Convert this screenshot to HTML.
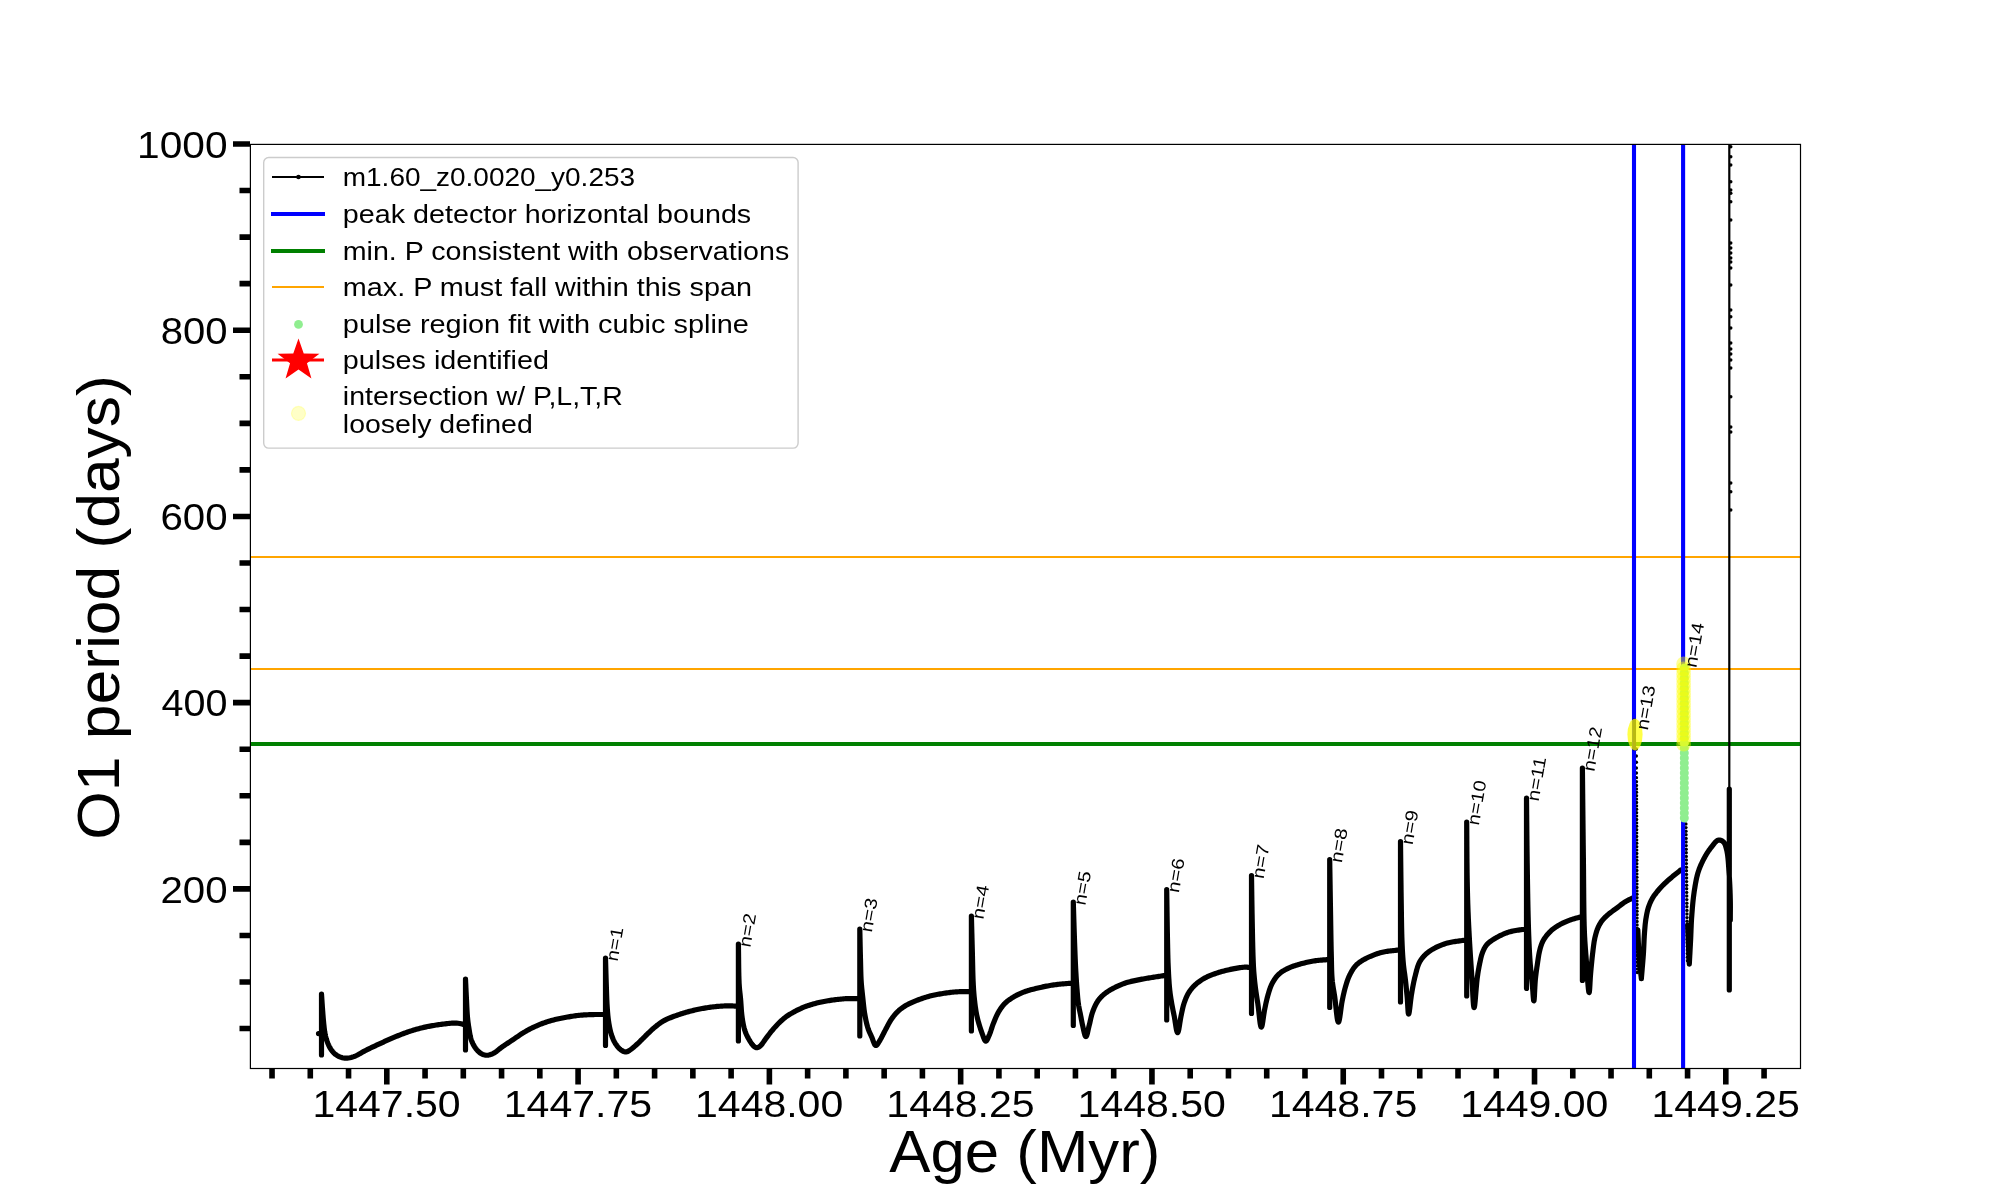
<!DOCTYPE html>
<html><head><meta charset="utf-8"><style>
html,body{margin:0;padding:0;background:#fff;overflow:hidden}
svg{display:block;will-change:transform}
text{font-family:"Liberation Sans",sans-serif;fill:#000}
</style></head><body>
<svg width="2000" height="1200" viewBox="0 0 2000 1200">
<rect width="2000" height="1200" fill="#fff"/>
<!-- hlines -->
<line x1="250" y1="557" x2="1800" y2="557" stroke="#ffa500" stroke-width="2"/>
<line x1="250" y1="669" x2="1800" y2="669" stroke="#ffa500" stroke-width="2"/>
<line x1="250" y1="744" x2="1800" y2="744" stroke="#008000" stroke-width="4.2"/>
<!-- curve -->
<path d="M318.5 1033.6 L321.5 1033.6 M321.50 1055.00 L321.50 994.00 M321.50 994.00 L321.55 994.67 L321.64 996.07 L321.74 997.50 L321.83 998.87 L321.92 1000.21 L322.00 1001.46 L322.08 1002.71 L322.17 1003.95 L322.25 1005.18 L322.34 1006.40 L322.42 1007.59 L322.51 1008.77 L322.60 1009.95 L322.69 1011.25 L322.79 1012.57 L322.89 1013.87 L322.99 1015.16 L323.09 1016.43 L323.19 1017.68 L323.30 1018.92 L323.41 1020.14 L323.52 1021.34 L323.63 1022.51 L323.75 1023.69 L323.89 1025.01 L324.03 1026.36 L324.18 1027.70 L324.34 1029.01 L324.50 1030.28 L324.67 1031.51 L324.86 1032.68 L325.06 1033.81 L325.28 1034.92 L325.59 1036.29 L325.93 1037.61 L326.28 1038.86 L326.66 1040.04 L327.06 1041.20 L327.51 1042.40 L328.03 1043.70 L328.61 1045.04 L329.24 1046.37 L329.92 1047.67 L330.64 1048.90 L331.39 1050.03 L332.13 1051.01 L332.91 1051.93 L333.73 1052.81 L334.62 1053.64 L335.56 1054.42 L336.56 1055.13 L337.56 1055.75 L338.66 1056.34 L339.84 1056.87 L341.08 1057.33 L342.33 1057.71 L343.56 1057.97 L344.77 1058.13 L345.98 1058.19 L347.21 1058.15 L348.47 1058.02 L349.77 1057.80 L351.11 1057.48 L352.48 1057.09 L353.81 1056.64 L354.86 1056.22 L355.90 1055.77 L356.96 1055.25 L358.04 1054.68 L359.16 1054.06 L360.30 1053.41 L361.46 1052.74 L362.65 1052.06 L363.87 1051.39 L365.07 1050.75 L366.13 1050.20 L367.19 1049.67 L368.28 1049.13 L369.41 1048.58 L370.57 1048.02 L371.75 1047.46 L372.93 1046.90 L374.12 1046.34 L375.31 1045.78 L376.50 1045.23 L377.68 1044.67 L378.86 1044.13 L380.02 1043.59 L381.16 1043.06 L382.31 1042.53 L383.46 1042.01 L384.61 1041.48 L385.76 1040.95 L386.91 1040.43 L388.07 1039.91 L389.22 1039.39 L390.38 1038.88 L391.53 1038.38 L392.69 1037.88 L393.86 1037.39 L395.02 1036.90 L396.16 1036.43 L397.31 1035.97 L398.45 1035.51 L399.60 1035.05 L400.75 1034.60 L401.91 1034.15 L403.06 1033.72 L404.21 1033.28 L405.37 1032.86 L406.52 1032.45 L407.66 1032.05 L408.80 1031.66 L409.95 1031.28 L411.20 1030.88 L412.47 1030.48 L413.73 1030.09 L414.98 1029.72 L416.23 1029.36 L417.48 1029.00 L418.74 1028.66 L419.99 1028.33 L421.24 1028.01 L422.50 1027.70 L423.76 1027.40 L425.02 1027.11 L426.26 1026.84 L427.50 1026.58 L428.74 1026.33 L429.99 1026.10 L431.24 1025.87 L432.49 1025.65 L433.74 1025.44 L434.99 1025.24 L436.24 1025.05 L437.48 1024.86 L438.72 1024.69 L439.95 1024.51 L441.21 1024.34 L442.54 1024.17 L443.92 1023.99 L445.32 1023.82 L446.74 1023.66 L448.14 1023.51 L449.51 1023.37 L450.80 1023.26 L451.96 1023.17 L452.98 1023.11 L453.90 1023.08 L454.77 1023.08 L456.51 1023.14 L458.04 1023.28 L459.59 1023.51 L460.96 1023.80 L462.10 1024.10 L464.03 1024.68 L464.75 1024.90 M465.50 1050.00 L465.50 979.00 M465.50 979.00 L465.53 979.67 L465.60 981.08 L465.66 982.51 L465.73 983.89 L465.79 985.21 L465.85 986.49 L465.91 987.75 L465.97 989.00 L466.02 990.26 L466.08 991.51 L466.14 992.75 L466.20 993.99 L466.26 995.21 L466.32 996.42 L466.38 997.60 L466.44 998.76 L466.50 999.93 L466.56 1001.24 L466.63 1002.58 L466.69 1003.92 L466.75 1005.24 L466.81 1006.55 L466.88 1007.85 L466.94 1009.14 L467.01 1010.41 L467.08 1011.66 L467.16 1012.88 L467.24 1014.07 L467.32 1015.20 L467.41 1016.31 L467.51 1017.41 L467.65 1018.80 L467.80 1020.18 L467.95 1021.48 L468.11 1022.72 L468.27 1023.92 L468.44 1025.09 L468.61 1026.27 L468.80 1027.47 L468.99 1028.70 L469.19 1029.97 L469.40 1031.28 L469.62 1032.60 L469.85 1033.92 L470.10 1035.22 L470.36 1036.47 L470.64 1037.65 L470.95 1038.77 L471.29 1039.86 L471.80 1041.27 L472.38 1042.65 L473.00 1043.96 L473.65 1045.19 L474.34 1046.36 L475.08 1047.49 L475.84 1048.55 L476.67 1049.60 L477.54 1050.61 L478.45 1051.53 L479.38 1052.35 L480.33 1053.06 L481.43 1053.75 L482.61 1054.34 L483.83 1054.80 L485.05 1055.10 L486.26 1055.24 L487.40 1055.23 L488.61 1055.07 L489.88 1054.77 L491.20 1054.33 L492.50 1053.78 L493.72 1053.17 L494.78 1052.55 L495.81 1051.85 L496.85 1051.07 L497.91 1050.22 L499.04 1049.30 L500.22 1048.36 L501.40 1047.45 L502.29 1046.80 L503.19 1046.17 L504.13 1045.52 L505.13 1044.85 L506.17 1044.16 L507.23 1043.46 L508.30 1042.76 L509.37 1042.06 L510.43 1041.36 L511.48 1040.67 L512.51 1039.98 L513.52 1039.30 L514.54 1038.61 L515.56 1037.92 L516.58 1037.22 L517.60 1036.52 L518.63 1035.82 L519.65 1035.14 L520.67 1034.46 L521.69 1033.81 L522.71 1033.17 L523.73 1032.53 L524.84 1031.87 L525.95 1031.22 L527.05 1030.59 L528.14 1029.98 L529.23 1029.39 L530.33 1028.80 L531.46 1028.22 L532.64 1027.64 L533.85 1027.06 L535.07 1026.50 L536.12 1026.03 L537.18 1025.57 L538.27 1025.11 L539.40 1024.65 L540.55 1024.19 L541.73 1023.74 L542.91 1023.29 L544.10 1022.86 L545.29 1022.44 L546.48 1022.04 L547.65 1021.65 L548.82 1021.28 L549.98 1020.93 L551.22 1020.57 L552.47 1020.23 L553.73 1019.90 L554.98 1019.59 L556.23 1019.30 L557.48 1019.02 L558.73 1018.74 L559.99 1018.48 L561.24 1018.23 L562.50 1017.98 L563.75 1017.74 L565.01 1017.50 L566.25 1017.28 L567.50 1017.05 L568.75 1016.83 L569.99 1016.62 L571.24 1016.42 L572.49 1016.22 L573.74 1016.04 L574.99 1015.86 L576.24 1015.70 L577.49 1015.54 L578.74 1015.40 L579.98 1015.27 L581.23 1015.16 L582.52 1015.05 L583.83 1014.96 L585.16 1014.87 L586.49 1014.80 L587.82 1014.74 L589.13 1014.68 L590.40 1014.64 L591.60 1014.60 L592.72 1014.56 L593.79 1014.54 L594.84 1014.51 L596.42 1014.49 L597.95 1014.48 L599.51 1014.48 L600.62 1014.48 L601.95 1014.49 L603.30 1014.50 M605.50 1045.50 L605.50 958.00 M605.50 958.00 L605.52 958.66 L605.56 960.06 L605.60 961.48 L605.64 962.85 L605.68 964.16 L605.71 965.43 L605.75 966.68 L605.78 967.94 L605.82 969.19 L605.85 970.44 L605.89 971.68 L605.92 972.93 L605.96 974.17 L606.00 975.40 L606.03 976.63 L606.07 977.86 L606.11 979.07 L606.14 980.28 L606.18 981.47 L606.22 982.63 L606.26 983.78 L606.30 984.94 L606.34 986.23 L606.38 987.54 L606.43 988.84 L606.47 990.12 L606.51 991.39 L606.55 992.65 L606.59 993.91 L606.63 995.15 L606.68 996.39 L606.72 997.62 L606.77 998.84 L606.82 1000.05 L606.88 1001.24 L606.94 1002.42 L607.00 1003.57 L607.06 1004.69 L607.13 1005.79 L607.20 1006.90 L607.29 1008.24 L607.39 1009.60 L607.49 1010.92 L607.58 1012.20 L607.69 1013.45 L607.79 1014.68 L607.91 1015.89 L608.03 1017.09 L608.16 1018.28 L608.31 1019.45 L608.46 1020.60 L608.63 1021.75 L608.81 1022.91 L609.03 1024.22 L609.26 1025.56 L609.52 1026.90 L609.79 1028.23 L610.07 1029.53 L610.36 1030.81 L610.67 1032.06 L610.99 1033.25 L611.32 1034.38 L611.66 1035.45 L612.03 1036.50 L612.53 1037.82 L613.07 1039.12 L613.64 1040.34 L614.21 1041.47 L614.80 1042.54 L615.41 1043.56 L616.06 1044.56 L616.79 1045.59 L617.56 1046.59 L618.34 1047.52 L619.12 1048.35 L619.90 1049.09 L620.73 1049.78 L622.01 1050.66 L623.46 1051.41 L624.81 1051.83 L626.00 1051.92 L627.02 1051.74 L628.15 1051.29 L629.44 1050.52 L630.81 1049.52 L632.10 1048.51 L633.02 1047.75 L633.94 1046.97 L634.91 1046.13 L635.92 1045.22 L636.97 1044.26 L638.02 1043.28 L639.06 1042.29 L640.06 1041.33 L640.93 1040.48 L641.80 1039.62 L642.67 1038.74 L643.56 1037.85 L644.44 1036.95 L645.33 1036.06 L646.20 1035.18 L647.08 1034.32 L647.96 1033.46 L648.95 1032.51 L649.96 1031.55 L650.98 1030.61 L651.99 1029.68 L653.00 1028.77 L654.03 1027.88 L655.07 1027.00 L656.10 1026.15 L657.04 1025.39 L657.95 1024.68 L658.85 1024.00 L659.76 1023.34 L660.72 1022.67 L661.77 1021.99 L662.90 1021.30 L664.09 1020.62 L665.02 1020.13 L665.97 1019.65 L666.98 1019.17 L668.06 1018.69 L669.19 1018.20 L670.37 1017.72 L671.57 1017.24 L672.79 1016.77 L674.02 1016.31 L675.25 1015.86 L676.47 1015.43 L677.66 1015.01 L678.84 1014.60 L679.99 1014.22 L681.21 1013.82 L682.44 1013.42 L683.67 1013.04 L684.90 1012.67 L686.13 1012.31 L687.36 1011.97 L688.59 1011.63 L689.83 1011.31 L691.06 1010.99 L692.30 1010.68 L693.54 1010.38 L694.78 1010.09 L696.02 1009.81 L697.24 1009.54 L698.46 1009.28 L699.69 1009.03 L700.91 1008.79 L702.14 1008.55 L703.37 1008.33 L704.60 1008.11 L705.84 1007.90 L707.07 1007.71 L708.30 1007.52 L709.53 1007.34 L710.75 1007.18 L711.98 1007.02 L713.21 1006.87 L714.48 1006.73 L715.78 1006.59 L717.09 1006.46 L718.41 1006.34 L719.73 1006.23 L721.04 1006.14 L722.33 1006.05 L723.57 1005.98 L724.73 1005.92 L725.81 1005.88 L726.84 1005.85 L727.85 1005.84 L729.40 1005.85 L730.88 1005.90 L732.39 1005.96 L733.43 1006.03 L734.71 1006.12 L736.00 1006.20 M738.40 1041.00 L738.40 944.00 M738.40 944.00 L738.41 944.65 L738.44 946.04 L738.46 947.47 L738.48 948.85 L738.50 950.18 L738.51 951.48 L738.53 952.78 L738.54 954.09 L738.56 955.40 L738.57 956.71 L738.59 958.03 L738.60 959.34 L738.62 960.66 L738.63 961.97 L738.64 963.28 L738.66 964.58 L738.68 965.88 L738.69 967.16 L738.71 968.44 L738.73 969.70 L738.75 970.95 L738.77 972.18 L738.80 973.40 L738.82 974.60 L738.85 975.77 L738.88 976.93 L738.91 978.06 L738.95 979.16 L738.99 980.22 L739.03 981.22 L739.06 982.14 L739.10 983.00 L739.15 983.83 L739.20 984.68 L739.31 986.32 L739.44 987.96 L739.57 989.41 L739.69 990.69 L739.82 991.86 L739.94 992.99 L740.07 994.10 L740.20 995.23 L740.33 996.41 L740.45 997.66 L740.58 998.99 L740.68 1000.19 L740.78 1001.40 L740.87 1002.63 L740.95 1003.88 L741.04 1005.17 L741.12 1006.46 L741.20 1007.76 L741.29 1009.05 L741.39 1010.35 L741.49 1011.62 L741.61 1012.87 L741.73 1014.08 L741.86 1015.25 L742.01 1016.42 L742.19 1017.78 L742.40 1019.16 L742.61 1020.54 L742.84 1021.89 L743.07 1023.21 L743.32 1024.51 L743.59 1025.78 L743.88 1027.01 L744.18 1028.19 L744.50 1029.32 L744.84 1030.44 L745.29 1031.72 L745.78 1032.98 L746.29 1034.20 L746.82 1035.37 L747.35 1036.47 L747.90 1037.52 L748.44 1038.54 L749.01 1039.53 L749.69 1040.69 L750.42 1041.85 L751.14 1042.92 L751.82 1043.88 L752.50 1044.74 L753.18 1045.53 L754.31 1046.63 L755.44 1047.39 L756.39 1047.69 L757.44 1047.64 L758.76 1047.12 L760.11 1046.17 L760.93 1045.40 L761.72 1044.48 L762.53 1043.38 L763.41 1042.12 L764.32 1040.78 L765.21 1039.50 L765.89 1038.56 L766.59 1037.61 L767.33 1036.62 L768.12 1035.58 L768.93 1034.52 L769.74 1033.47 L770.53 1032.46 L771.31 1031.49 L772.08 1030.55 L772.99 1029.47 L773.89 1028.41 L774.79 1027.39 L775.68 1026.40 L776.57 1025.43 L777.48 1024.47 L778.41 1023.52 L779.36 1022.57 L780.32 1021.64 L781.29 1020.73 L782.28 1019.83 L783.30 1018.94 L784.36 1018.07 L785.45 1017.23 L786.49 1016.47 L787.55 1015.74 L788.65 1015.02 L789.78 1014.31 L790.95 1013.61 L792.15 1012.92 L793.36 1012.24 L794.56 1011.59 L795.66 1011.00 L796.76 1010.44 L797.86 1009.88 L798.99 1009.33 L800.14 1008.79 L801.32 1008.25 L802.55 1007.72 L803.82 1007.20 L805.09 1006.70 L806.16 1006.30 L807.23 1005.92 L808.33 1005.54 L809.47 1005.17 L810.64 1004.80 L811.83 1004.43 L813.03 1004.08 L814.24 1003.74 L815.44 1003.42 L816.62 1003.11 L817.79 1002.81 L818.96 1002.53 L820.23 1002.24 L821.51 1001.96 L822.80 1001.69 L824.08 1001.44 L825.35 1001.21 L826.63 1000.99 L827.90 1000.77 L829.18 1000.57 L830.45 1000.38 L831.72 1000.19 L833.00 1000.01 L834.27 999.84 L835.55 999.67 L836.85 999.51 L838.16 999.36 L839.46 999.22 L840.76 999.09 L842.05 998.97 L843.32 998.86 L844.57 998.77 L845.79 998.69 L846.99 998.63 L848.30 998.58 L849.59 998.55 L850.86 998.53 L852.11 998.53 L853.39 998.54 L854.51 998.56 L855.73 998.57 L856.96 998.59 L858.20 998.60 M859.80 1036.00 L859.80 929.00 M859.80 929.00 L859.82 929.90 L859.85 931.47 L859.88 932.75 L859.91 934.02 L859.94 935.29 L859.96 936.56 L859.99 937.84 L860.02 939.12 L860.05 940.40 L860.07 941.67 L860.10 942.95 L860.13 944.22 L860.15 945.49 L860.18 946.75 L860.21 948.01 L860.24 949.26 L860.26 950.50 L860.29 951.74 L860.32 952.96 L860.35 954.17 L860.38 955.37 L860.41 956.55 L860.44 957.72 L860.47 958.85 L860.50 959.92 L860.54 961.36 L860.57 962.73 L860.60 964.08 L860.63 965.40 L860.66 966.71 L860.69 968.01 L860.72 969.29 L860.75 970.56 L860.79 971.82 L860.82 973.07 L860.86 974.30 L860.90 975.52 L860.95 976.74 L861.00 977.94 L861.06 979.14 L861.13 980.31 L861.20 981.45 L861.29 982.82 L861.39 984.14 L861.50 985.42 L861.62 986.68 L861.73 987.92 L861.86 989.16 L861.99 990.39 L862.12 991.61 L862.25 992.83 L862.39 994.05 L862.52 995.27 L862.66 996.50 L862.80 997.75 L862.93 999.00 L863.06 1000.26 L863.19 1001.52 L863.32 1002.79 L863.46 1004.06 L863.59 1005.32 L863.73 1006.58 L863.88 1007.84 L864.03 1009.09 L864.19 1010.33 L864.37 1011.57 L864.55 1012.79 L864.75 1013.99 L864.97 1015.23 L865.20 1016.48 L865.43 1017.73 L865.67 1018.98 L865.93 1020.22 L866.19 1021.44 L866.47 1022.65 L866.75 1023.84 L867.05 1025.01 L867.36 1026.15 L867.67 1027.23 L867.99 1028.23 L868.44 1029.55 L868.91 1030.77 L869.39 1031.92 L869.88 1033.03 L870.38 1034.13 L870.89 1035.21 L871.39 1036.28 L871.85 1037.32 L872.41 1038.70 L872.97 1040.28 L873.54 1041.89 L874.12 1043.42 L874.78 1044.69 L875.39 1045.35 L875.81 1045.51 L876.33 1045.41 L877.15 1044.74 L878.06 1043.46 L878.93 1042.00 L879.78 1040.57 L880.27 1039.75 L880.82 1038.79 L881.39 1037.74 L881.96 1036.64 L882.53 1035.51 L883.11 1034.36 L883.70 1033.20 L884.30 1032.04 L884.92 1030.87 L885.45 1029.86 L886.01 1028.80 L886.58 1027.71 L887.16 1026.60 L887.74 1025.48 L888.33 1024.37 L888.93 1023.28 L889.54 1022.20 L890.16 1021.15 L890.77 1020.16 L891.37 1019.26 L892.17 1018.11 L892.95 1017.04 L893.73 1016.03 L894.52 1015.04 L895.33 1014.09 L896.16 1013.17 L897.02 1012.28 L897.92 1011.40 L898.81 1010.58 L899.71 1009.80 L900.64 1009.05 L901.59 1008.33 L902.57 1007.63 L903.57 1006.94 L904.62 1006.27 L905.73 1005.59 L906.71 1005.03 L907.74 1004.47 L908.81 1003.91 L909.90 1003.38 L911.02 1002.85 L912.15 1002.34 L913.31 1001.84 L914.47 1001.35 L915.64 1000.87 L916.81 1000.40 L917.93 999.96 L919.08 999.53 L920.24 999.10 L921.42 998.68 L922.61 998.27 L923.80 997.88 L925.00 997.49 L926.21 997.12 L927.41 996.77 L928.61 996.43 L929.81 996.10 L930.98 995.80 L932.15 995.52 L933.33 995.25 L934.51 995.00 L935.69 994.76 L936.87 994.53 L938.06 994.31 L939.24 994.10 L940.43 993.89 L941.61 993.70 L942.76 993.51 L944.09 993.30 L945.39 993.10 L946.69 992.91 L947.99 992.73 L949.29 992.56 L950.59 992.40 L951.89 992.26 L953.20 992.12 L954.50 992.01 L955.80 991.90 L957.10 991.82 L958.40 991.76 L959.70 991.72 L961.00 991.69 L962.30 991.67 L963.60 991.66 L964.90 991.65 L966.22 991.64 L967.84 991.62 L968.80 991.60 M971.40 1031.00 L971.40 916.00 M971.40 916.00 L971.43 917.21 L971.46 918.43 L971.50 919.64 L971.53 920.85 L971.56 922.07 L971.59 923.28 L971.62 924.49 L971.65 925.70 L971.69 926.91 L971.72 928.12 L971.75 929.33 L971.78 930.55 L971.81 931.76 L971.84 932.97 L971.88 934.18 L971.91 935.39 L971.94 936.61 L971.97 937.82 L972.00 939.03 L972.04 940.25 L972.07 941.46 L972.10 942.68 L972.13 943.90 L972.17 945.12 L972.20 946.34 L972.23 947.56 L972.27 948.78 L972.30 950.00 L972.33 951.20 L972.36 952.42 L972.39 953.66 L972.42 954.90 L972.45 956.16 L972.48 957.42 L972.51 958.69 L972.54 959.97 L972.56 961.25 L972.59 962.53 L972.62 963.81 L972.65 965.09 L972.68 966.37 L972.70 967.64 L972.73 968.91 L972.76 970.16 L972.80 971.41 L972.83 972.65 L972.86 973.87 L972.90 975.08 L972.94 976.27 L972.97 977.44 L973.01 978.60 L973.06 979.73 L973.10 980.84 L973.15 981.93 L973.20 982.98 L973.25 983.96 L973.29 984.83 L973.39 986.48 L973.48 987.95 L973.57 989.33 L973.66 990.67 L973.76 991.98 L973.86 993.24 L973.96 994.49 L974.07 995.71 L974.19 996.91 L974.31 998.11 L974.43 999.30 L974.56 1000.49 L974.70 1001.67 L974.85 1002.97 L975.01 1004.25 L975.17 1005.50 L975.33 1006.74 L975.51 1007.97 L975.69 1009.19 L975.87 1010.39 L976.07 1011.57 L976.27 1012.73 L976.48 1013.86 L976.69 1014.93 L976.99 1016.32 L977.28 1017.62 L977.59 1018.88 L977.91 1020.11 L978.24 1021.33 L978.58 1022.54 L978.93 1023.76 L979.30 1024.98 L979.68 1026.26 L980.09 1027.56 L980.51 1028.86 L980.94 1030.16 L981.38 1031.44 L981.82 1032.68 L982.26 1033.86 L982.64 1034.85 L983.26 1036.56 L983.89 1038.37 L984.59 1040.05 L985.32 1041.01 L985.75 1041.18 L986.10 1041.08 L986.70 1040.51 L987.43 1039.29 L988.10 1037.83 L988.74 1036.32 L989.33 1034.91 L989.75 1033.89 L990.19 1032.74 L990.63 1031.51 L991.05 1030.23 L991.48 1028.93 L991.91 1027.61 L992.35 1026.29 L992.82 1024.97 L993.31 1023.68 L993.78 1022.50 L994.27 1021.28 L994.77 1020.04 L995.28 1018.79 L995.81 1017.55 L996.35 1016.32 L996.91 1015.11 L997.49 1013.93 L998.09 1012.79 L998.71 1011.70 L999.36 1010.63 L1000.02 1009.58 L1000.70 1008.56 L1001.40 1007.57 L1002.12 1006.61 L1002.86 1005.67 L1003.64 1004.76 L1004.45 1003.87 L1005.30 1003.02 L1006.22 1002.16 L1007.20 1001.33 L1008.21 1000.53 L1009.25 999.76 L1010.32 999.02 L1011.41 998.30 L1012.51 997.61 L1013.61 996.94 L1014.72 996.30 L1015.78 995.70 L1016.84 995.13 L1017.91 994.59 L1018.99 994.06 L1020.09 993.56 L1021.20 993.08 L1022.34 992.61 L1023.50 992.15 L1024.73 991.70 L1025.82 991.31 L1026.97 990.93 L1028.16 990.56 L1029.36 990.21 L1030.59 989.86 L1031.82 989.53 L1033.06 989.21 L1034.31 988.90 L1035.55 988.59 L1036.78 988.29 L1038.01 988.00 L1039.21 987.72 L1040.41 987.44 L1041.62 987.17 L1042.82 986.90 L1044.03 986.65 L1045.24 986.40 L1046.45 986.16 L1047.66 985.93 L1048.87 985.71 L1050.08 985.50 L1051.29 985.30 L1052.52 985.11 L1053.78 984.93 L1055.07 984.76 L1056.36 984.59 L1057.65 984.43 L1058.93 984.28 L1060.19 984.15 L1061.41 984.02 L1062.58 983.90 L1063.64 983.80 L1064.57 983.72 L1066.19 983.59 L1067.54 983.50 L1068.80 983.43 L1070.01 983.37 L1071.30 983.30 M1073.30 1025.50 L1073.30 902.00 M1073.30 902.00 L1073.33 902.88 L1073.38 904.43 L1073.42 905.70 L1073.45 906.94 L1073.49 908.18 L1073.53 909.43 L1073.57 910.68 L1073.61 911.93 L1073.64 913.18 L1073.68 914.43 L1073.72 915.69 L1073.76 916.94 L1073.79 918.19 L1073.83 919.44 L1073.87 920.69 L1073.91 921.94 L1073.95 923.18 L1073.98 924.42 L1074.02 925.66 L1074.06 926.89 L1074.10 928.12 L1074.14 929.34 L1074.18 930.55 L1074.22 931.76 L1074.26 932.96 L1074.30 934.16 L1074.34 935.35 L1074.38 936.53 L1074.42 937.69 L1074.46 938.84 L1074.50 939.95 L1074.55 941.28 L1074.59 942.59 L1074.64 943.87 L1074.69 945.15 L1074.73 946.42 L1074.78 947.68 L1074.83 948.94 L1074.87 950.20 L1074.92 951.44 L1074.97 952.68 L1075.01 953.91 L1075.06 955.14 L1075.11 956.35 L1075.16 957.56 L1075.21 958.77 L1075.26 959.96 L1075.31 961.15 L1075.36 962.32 L1075.42 963.49 L1075.47 964.65 L1075.53 965.81 L1075.58 966.95 L1075.64 968.06 L1075.70 969.12 L1075.77 970.53 L1075.85 971.88 L1075.92 973.20 L1076.00 974.52 L1076.08 975.82 L1076.16 977.11 L1076.24 978.39 L1076.32 979.66 L1076.40 980.91 L1076.48 982.15 L1076.57 983.38 L1076.65 984.59 L1076.74 985.79 L1076.83 986.97 L1076.92 988.13 L1077.01 989.25 L1077.09 990.31 L1077.21 991.80 L1077.33 993.20 L1077.44 994.55 L1077.55 995.88 L1077.66 997.18 L1077.78 998.46 L1077.91 999.72 L1078.04 1000.97 L1078.18 1002.19 L1078.34 1003.40 L1078.50 1004.58 L1078.70 1005.86 L1078.92 1007.08 L1079.14 1008.26 L1079.38 1009.43 L1079.62 1010.58 L1079.87 1011.73 L1080.12 1012.87 L1080.36 1014.03 L1080.60 1015.20 L1080.83 1016.38 L1081.05 1017.55 L1081.26 1018.73 L1081.48 1019.90 L1081.70 1021.07 L1081.93 1022.25 L1082.17 1023.43 L1082.43 1024.60 L1082.68 1025.73 L1082.99 1027.08 L1083.33 1028.67 L1083.69 1030.35 L1084.06 1032.02 L1084.45 1033.62 L1084.88 1035.09 L1085.38 1036.18 L1085.73 1036.58 L1085.90 1036.63 L1086.07 1036.58 L1086.40 1036.20 L1086.88 1035.15 L1087.29 1033.71 L1087.66 1032.14 L1088.03 1030.47 L1088.40 1028.78 L1088.77 1027.16 L1089.13 1025.69 L1089.39 1024.66 L1089.66 1023.53 L1089.94 1022.35 L1090.20 1021.16 L1090.47 1019.95 L1090.75 1018.73 L1091.03 1017.52 L1091.32 1016.31 L1091.63 1015.12 L1091.97 1013.95 L1092.32 1012.82 L1092.69 1011.75 L1093.16 1010.49 L1093.65 1009.25 L1094.15 1008.04 L1094.67 1006.84 L1095.22 1005.66 L1095.79 1004.51 L1096.38 1003.40 L1097.00 1002.32 L1097.64 1001.29 L1098.29 1000.33 L1099.09 999.27 L1099.90 998.29 L1100.73 997.38 L1101.59 996.50 L1102.48 995.65 L1103.41 994.83 L1104.39 994.01 L1105.43 993.18 L1106.35 992.50 L1107.32 991.82 L1108.35 991.14 L1109.41 990.48 L1110.49 989.84 L1111.59 989.21 L1112.70 988.60 L1113.81 988.01 L1114.91 987.45 L1115.98 986.91 L1117.16 986.34 L1118.32 985.80 L1119.47 985.29 L1120.63 984.80 L1121.80 984.33 L1122.98 983.88 L1124.19 983.44 L1125.43 983.01 L1126.76 982.59 L1127.81 982.28 L1128.91 981.97 L1130.06 981.67 L1131.22 981.38 L1132.41 981.11 L1133.60 980.85 L1134.80 980.59 L1136.01 980.35 L1137.22 980.10 L1138.42 979.87 L1139.62 979.63 L1140.80 979.40 L1141.98 979.17 L1143.18 978.95 L1144.40 978.73 L1145.62 978.52 L1146.84 978.31 L1148.06 978.11 L1149.26 977.91 L1150.46 977.72 L1151.64 977.53 L1152.79 977.35 L1153.90 977.18 L1154.93 977.01 L1156.32 976.79 L1157.62 976.59 L1158.85 976.40 L1160.07 976.22 L1161.27 976.04 L1162.46 975.86 L1163.67 975.68 L1164.90 975.50 M1166.70 1020.00 L1166.70 889.50 M1166.70 889.50 L1166.71 890.36 L1166.74 891.88 L1166.76 893.14 L1166.78 894.37 L1166.79 895.60 L1166.81 896.84 L1166.83 898.09 L1166.85 899.34 L1166.87 900.59 L1166.89 901.85 L1166.90 903.11 L1166.92 904.37 L1166.94 905.63 L1166.96 906.90 L1166.98 908.16 L1166.99 909.42 L1167.01 910.68 L1167.03 911.94 L1167.05 913.20 L1167.07 914.45 L1167.08 915.70 L1167.10 916.95 L1167.12 918.19 L1167.14 919.43 L1167.16 920.66 L1167.18 921.88 L1167.20 923.09 L1167.22 924.30 L1167.23 925.50 L1167.25 926.69 L1167.27 927.87 L1167.29 929.04 L1167.31 930.19 L1167.33 931.34 L1167.35 932.47 L1167.37 933.59 L1167.39 934.70 L1167.41 935.79 L1167.44 936.87 L1167.46 937.93 L1167.48 938.93 L1167.50 939.86 L1167.53 941.41 L1167.56 942.83 L1167.59 944.21 L1167.62 945.55 L1167.64 946.88 L1167.67 948.18 L1167.70 949.47 L1167.72 950.74 L1167.75 951.99 L1167.78 953.22 L1167.81 954.45 L1167.84 955.66 L1167.87 956.86 L1167.90 958.06 L1167.94 959.24 L1167.97 960.43 L1168.01 961.61 L1168.05 962.78 L1168.10 963.96 L1168.15 965.13 L1168.20 966.30 L1168.25 967.45 L1168.31 968.80 L1168.38 970.13 L1168.44 971.44 L1168.51 972.74 L1168.57 974.05 L1168.64 975.34 L1168.71 976.63 L1168.79 977.91 L1168.87 979.19 L1168.95 980.45 L1169.03 981.70 L1169.12 982.93 L1169.21 984.16 L1169.31 985.36 L1169.41 986.55 L1169.52 987.73 L1169.63 988.85 L1169.74 989.92 L1169.91 991.36 L1170.07 992.72 L1170.24 994.03 L1170.42 995.32 L1170.61 996.59 L1170.80 997.84 L1170.99 999.07 L1171.19 1000.29 L1171.39 1001.49 L1171.60 1002.67 L1171.80 1003.83 L1171.99 1004.95 L1172.24 1006.32 L1172.48 1007.59 L1172.72 1008.80 L1172.96 1009.99 L1173.20 1011.18 L1173.45 1012.38 L1173.71 1013.61 L1173.97 1014.90 L1174.25 1016.29 L1174.45 1017.38 L1174.68 1018.71 L1174.92 1020.19 L1175.15 1021.75 L1175.40 1023.36 L1175.64 1024.97 L1175.89 1026.54 L1176.14 1028.04 L1176.40 1029.43 L1176.68 1030.72 L1177.02 1031.81 L1177.32 1032.41 L1177.51 1032.59 L1177.60 1032.61 L1177.70 1032.59 L1177.88 1032.42 L1178.17 1031.83 L1178.51 1030.75 L1178.79 1029.48 L1179.04 1028.09 L1179.29 1026.60 L1179.53 1025.04 L1179.78 1023.43 L1180.03 1021.83 L1180.28 1020.26 L1180.52 1018.76 L1180.77 1017.41 L1180.99 1016.29 L1181.29 1014.90 L1181.57 1013.55 L1181.84 1012.24 L1182.11 1010.94 L1182.39 1009.66 L1182.67 1008.40 L1182.97 1007.15 L1183.29 1005.92 L1183.63 1004.71 L1184.00 1003.52 L1184.42 1002.26 L1184.85 1001.03 L1185.31 999.81 L1185.78 998.60 L1186.27 997.42 L1186.79 996.27 L1187.34 995.14 L1187.91 994.05 L1188.51 993.01 L1189.16 991.96 L1189.84 990.95 L1190.53 989.99 L1191.26 989.05 L1192.01 988.14 L1192.80 987.25 L1193.63 986.38 L1194.51 985.50 L1195.38 984.69 L1196.29 983.88 L1197.23 983.09 L1198.21 982.31 L1199.22 981.56 L1200.25 980.82 L1201.31 980.11 L1202.40 979.42 L1203.51 978.75 L1204.60 978.14 L1205.72 977.55 L1206.87 976.98 L1208.04 976.44 L1209.24 975.91 L1210.46 975.40 L1211.70 974.91 L1212.95 974.43 L1214.22 973.96 L1215.54 973.49 L1216.68 973.10 L1217.88 972.70 L1219.10 972.32 L1220.34 971.95 L1221.60 971.59 L1222.86 971.24 L1224.14 970.90 L1225.41 970.57 L1226.69 970.26 L1227.97 969.96 L1229.24 969.68 L1230.49 969.40 L1231.76 969.14 L1233.09 968.87 L1234.46 968.61 L1235.86 968.35 L1237.25 968.11 L1238.63 967.88 L1239.98 967.68 L1241.27 967.50 L1242.50 967.34 L1243.64 967.23 L1244.59 967.15 L1245.35 967.13 L1246.99 967.20 L1248.09 967.33 L1249.25 967.50 M1251.50 1013.50 L1251.50 875.50 M1251.50 875.50 L1251.51 876.36 L1251.54 877.88 L1251.56 879.12 L1251.57 880.34 L1251.59 881.55 L1251.61 882.77 L1251.63 884.00 L1251.65 885.22 L1251.67 886.44 L1251.68 887.67 L1251.70 888.90 L1251.72 890.12 L1251.74 891.35 L1251.76 892.58 L1251.77 893.80 L1251.79 895.03 L1251.81 896.25 L1251.83 897.47 L1251.85 898.69 L1251.86 899.91 L1251.88 901.13 L1251.90 902.34 L1251.92 903.55 L1251.94 904.76 L1251.96 905.97 L1251.98 907.16 L1252.00 908.36 L1252.01 909.55 L1252.03 910.74 L1252.05 911.92 L1252.07 913.09 L1252.09 914.26 L1252.12 915.42 L1252.14 916.58 L1252.16 917.73 L1252.18 918.85 L1252.20 919.95 L1252.22 921.27 L1252.25 922.57 L1252.27 923.86 L1252.30 925.15 L1252.32 926.44 L1252.35 927.73 L1252.37 929.02 L1252.40 930.31 L1252.42 931.60 L1252.45 932.88 L1252.47 934.16 L1252.50 935.43 L1252.52 936.69 L1252.55 937.95 L1252.58 939.19 L1252.60 940.42 L1252.63 941.65 L1252.66 942.86 L1252.69 944.05 L1252.72 945.23 L1252.74 946.40 L1252.77 947.55 L1252.80 948.68 L1252.84 949.79 L1252.87 950.88 L1252.90 951.95 L1252.93 952.99 L1252.96 953.96 L1252.99 954.83 L1253.05 956.48 L1253.10 957.93 L1253.15 959.30 L1253.20 960.61 L1253.25 961.89 L1253.31 963.13 L1253.36 964.36 L1253.42 965.56 L1253.48 966.77 L1253.55 967.97 L1253.63 969.19 L1253.71 970.42 L1253.80 971.69 L1253.90 972.98 L1254.01 974.26 L1254.12 975.54 L1254.23 976.81 L1254.35 978.09 L1254.48 979.37 L1254.61 980.64 L1254.75 981.92 L1254.89 983.19 L1255.04 984.47 L1255.19 985.75 L1255.34 987.03 L1255.51 988.33 L1255.66 989.50 L1255.82 990.67 L1255.98 991.84 L1256.15 993.00 L1256.32 994.16 L1256.50 995.32 L1256.68 996.49 L1256.86 997.66 L1257.05 998.85 L1257.24 1000.04 L1257.43 1001.25 L1257.62 1002.47 L1257.81 1003.72 L1258.00 1005.00 L1258.16 1006.19 L1258.34 1007.55 L1258.51 1009.04 L1258.69 1010.61 L1258.87 1012.24 L1259.05 1013.91 L1259.23 1015.58 L1259.41 1017.25 L1259.60 1018.87 L1259.78 1020.43 L1259.97 1021.90 L1260.16 1023.27 L1260.37 1024.52 L1260.61 1025.67 L1260.88 1026.55 L1261.09 1026.96 L1261.23 1027.09 L1261.29 1027.11 L1261.37 1027.09 L1261.53 1026.94 L1261.79 1026.42 L1262.11 1025.37 L1262.37 1024.12 L1262.60 1022.77 L1262.83 1021.30 L1263.06 1019.74 L1263.29 1018.12 L1263.53 1016.48 L1263.76 1014.85 L1264.00 1013.26 L1264.24 1011.76 L1264.48 1010.38 L1264.70 1009.20 L1264.96 1007.94 L1265.22 1006.70 L1265.48 1005.47 L1265.73 1004.26 L1265.99 1003.06 L1266.26 1001.88 L1266.52 1000.70 L1266.80 999.54 L1267.08 998.39 L1267.38 997.25 L1267.68 996.13 L1267.99 995.04 L1268.36 993.77 L1268.73 992.53 L1269.09 991.32 L1269.47 990.11 L1269.86 988.93 L1270.27 987.76 L1270.71 986.61 L1271.17 985.48 L1271.67 984.38 L1272.20 983.33 L1272.81 982.19 L1273.45 981.09 L1274.12 980.01 L1274.82 978.95 L1275.55 977.92 L1276.32 976.93 L1277.11 975.98 L1277.95 975.07 L1278.82 974.21 L1279.71 973.41 L1280.64 972.66 L1281.61 971.95 L1282.61 971.27 L1283.65 970.63 L1284.71 970.02 L1285.79 969.43 L1286.89 968.86 L1288.02 968.30 L1289.09 967.80 L1290.19 967.33 L1291.31 966.88 L1292.46 966.46 L1293.62 966.05 L1294.80 965.67 L1296.00 965.29 L1297.22 964.92 L1298.45 964.56 L1299.72 964.20 L1300.88 963.87 L1302.08 963.54 L1303.31 963.22 L1304.57 962.90 L1305.84 962.59 L1307.12 962.29 L1308.40 962.00 L1309.68 961.73 L1310.96 961.47 L1312.23 961.23 L1313.48 961.01 L1314.70 960.81 L1315.94 960.63 L1317.16 960.47 L1318.38 960.34 L1319.59 960.23 L1320.79 960.13 L1321.99 960.04 L1323.19 959.96 L1324.39 959.88 L1325.59 959.79 L1326.79 959.70 L1328.00 959.60 M1329.70 1007.50 L1329.70 859.50 M1329.70 859.50 L1329.71 860.35 L1329.74 861.87 L1329.76 863.11 L1329.78 864.32 L1329.79 865.53 L1329.81 866.74 L1329.83 867.95 L1329.85 869.16 L1329.87 870.37 L1329.89 871.59 L1329.91 872.80 L1329.93 874.01 L1329.95 875.23 L1329.96 876.44 L1329.98 877.66 L1330.00 878.87 L1330.02 880.08 L1330.04 881.30 L1330.06 882.51 L1330.08 883.72 L1330.10 884.93 L1330.12 886.14 L1330.13 887.35 L1330.15 888.56 L1330.17 889.77 L1330.19 890.98 L1330.21 892.18 L1330.23 893.38 L1330.25 894.58 L1330.27 895.78 L1330.29 896.98 L1330.31 898.18 L1330.33 899.37 L1330.34 900.56 L1330.36 901.75 L1330.38 902.94 L1330.40 904.12 L1330.42 905.31 L1330.44 906.48 L1330.46 907.66 L1330.48 908.82 L1330.50 909.97 L1330.52 911.24 L1330.54 912.51 L1330.56 913.78 L1330.58 915.04 L1330.60 916.31 L1330.62 917.59 L1330.64 918.86 L1330.66 920.14 L1330.68 921.42 L1330.70 922.70 L1330.72 923.98 L1330.74 925.25 L1330.76 926.53 L1330.78 927.80 L1330.80 929.07 L1330.82 930.34 L1330.84 931.60 L1330.86 932.86 L1330.88 934.11 L1330.90 935.36 L1330.92 936.60 L1330.94 937.83 L1330.96 939.05 L1330.98 940.27 L1331.00 941.48 L1331.03 942.67 L1331.05 943.86 L1331.07 945.03 L1331.10 946.20 L1331.12 947.35 L1331.14 948.49 L1331.17 949.61 L1331.19 950.72 L1331.22 951.82 L1331.25 952.90 L1331.27 953.92 L1331.30 954.87 L1331.34 956.41 L1331.37 957.83 L1331.40 959.20 L1331.43 960.56 L1331.45 961.89 L1331.48 963.21 L1331.50 964.50 L1331.53 965.78 L1331.56 967.04 L1331.59 968.29 L1331.62 969.51 L1331.66 970.73 L1331.70 971.93 L1331.75 973.11 L1331.81 974.29 L1331.87 975.45 L1331.94 976.60 L1332.02 977.74 L1332.10 978.86 L1332.20 979.94 L1332.33 981.30 L1332.48 982.55 L1332.63 983.76 L1332.79 984.93 L1332.96 986.08 L1333.14 987.21 L1333.33 988.34 L1333.52 989.47 L1333.71 990.60 L1333.91 991.75 L1334.10 992.93 L1334.30 994.13 L1334.50 995.39 L1334.70 996.73 L1334.85 997.83 L1335.02 999.10 L1335.18 1000.51 L1335.35 1001.99 L1335.52 1003.55 L1335.69 1005.15 L1335.87 1006.79 L1336.04 1008.43 L1336.22 1010.08 L1336.39 1011.69 L1336.57 1013.27 L1336.75 1014.78 L1336.94 1016.22 L1337.12 1017.57 L1337.31 1018.80 L1337.52 1019.94 L1337.76 1020.97 L1338.02 1021.68 L1338.21 1022.00 L1338.33 1022.09 L1338.39 1022.11 L1338.46 1022.10 L1338.60 1021.99 L1338.83 1021.59 L1339.12 1020.74 L1339.38 1019.61 L1339.61 1018.39 L1339.83 1017.05 L1340.04 1015.61 L1340.25 1014.09 L1340.47 1012.52 L1340.68 1010.91 L1340.90 1009.29 L1341.12 1007.68 L1341.33 1006.11 L1341.55 1004.61 L1341.78 1003.19 L1341.99 1001.91 L1342.20 1000.84 L1342.47 999.51 L1342.73 998.24 L1342.98 997.01 L1343.24 995.80 L1343.50 994.62 L1343.76 993.45 L1344.03 992.30 L1344.30 991.17 L1344.58 990.04 L1344.88 988.93 L1345.18 987.83 L1345.49 986.74 L1345.86 985.48 L1346.23 984.25 L1346.60 983.04 L1346.98 981.85 L1347.38 980.67 L1347.79 979.51 L1348.23 978.36 L1348.69 977.22 L1349.18 976.11 L1349.69 975.04 L1350.31 973.82 L1350.94 972.62 L1351.60 971.44 L1352.29 970.28 L1353.01 969.14 L1353.77 968.04 L1354.57 966.98 L1355.43 965.96 L1356.35 964.98 L1357.17 964.19 L1358.05 963.43 L1358.97 962.71 L1359.93 962.02 L1360.92 961.36 L1361.94 960.72 L1362.99 960.10 L1364.06 959.50 L1365.18 958.89 L1366.34 958.29 L1367.33 957.78 L1368.38 957.27 L1369.48 956.76 L1370.60 956.26 L1371.74 955.77 L1372.90 955.30 L1374.08 954.84 L1375.27 954.40 L1376.47 953.98 L1377.68 953.57 L1378.89 953.19 L1380.11 952.83 L1381.32 952.50 L1382.46 952.22 L1383.61 951.97 L1384.79 951.74 L1385.97 951.54 L1387.16 951.36 L1388.36 951.19 L1389.56 951.03 L1390.77 950.89 L1391.98 950.75 L1393.19 950.61 L1394.40 950.47 L1395.64 950.32 L1397.15 950.12 L1398.00 950.00 M1400.50 1002.00 L1400.50 841.50 M1400.50 841.50 L1400.51 842.37 L1400.53 843.91 L1400.54 845.17 L1400.56 846.41 L1400.57 847.64 L1400.59 848.88 L1400.60 850.12 L1400.61 851.37 L1400.63 852.61 L1400.64 853.86 L1400.65 855.11 L1400.67 856.36 L1400.68 857.62 L1400.70 858.87 L1400.71 860.12 L1400.72 861.38 L1400.74 862.63 L1400.75 863.89 L1400.76 865.14 L1400.78 866.39 L1400.79 867.64 L1400.81 868.89 L1400.82 870.14 L1400.83 871.39 L1400.85 872.63 L1400.86 873.87 L1400.87 875.11 L1400.89 876.35 L1400.90 877.58 L1400.92 878.81 L1400.93 880.04 L1400.95 881.26 L1400.96 882.47 L1400.98 883.69 L1400.99 884.89 L1401.01 886.10 L1401.02 887.29 L1401.04 888.48 L1401.05 889.67 L1401.07 890.84 L1401.08 892.02 L1401.10 893.18 L1401.12 894.34 L1401.13 895.49 L1401.15 896.63 L1401.17 897.76 L1401.18 898.87 L1401.20 899.93 L1401.22 901.30 L1401.24 902.64 L1401.26 903.95 L1401.28 905.26 L1401.30 906.57 L1401.31 907.88 L1401.33 909.18 L1401.35 910.48 L1401.37 911.77 L1401.39 913.06 L1401.40 914.34 L1401.42 915.62 L1401.44 916.89 L1401.46 918.15 L1401.48 919.41 L1401.50 920.65 L1401.52 921.89 L1401.54 923.12 L1401.56 924.34 L1401.58 925.56 L1401.60 926.76 L1401.63 927.95 L1401.65 929.13 L1401.68 930.30 L1401.70 931.46 L1401.73 932.60 L1401.76 933.73 L1401.79 934.85 L1401.82 935.96 L1401.85 937.05 L1401.89 938.12 L1401.92 939.18 L1401.96 940.19 L1402.00 941.12 L1402.06 942.63 L1402.11 944.01 L1402.17 945.33 L1402.23 946.63 L1402.28 947.90 L1402.34 949.15 L1402.41 950.37 L1402.47 951.58 L1402.54 952.77 L1402.61 953.95 L1402.68 955.11 L1402.76 956.26 L1402.84 957.41 L1402.92 958.55 L1403.01 959.68 L1403.10 960.82 L1403.20 961.94 L1403.30 963.04 L1403.43 964.41 L1403.57 965.71 L1403.72 966.99 L1403.87 968.25 L1404.03 969.50 L1404.20 970.74 L1404.37 971.98 L1404.54 973.20 L1404.71 974.43 L1404.87 975.66 L1405.04 976.88 L1405.20 978.11 L1405.35 979.35 L1405.50 980.60 L1405.64 981.85 L1405.78 983.10 L1405.91 984.36 L1406.04 985.61 L1406.17 986.87 L1406.30 988.13 L1406.43 989.38 L1406.55 990.64 L1406.67 991.89 L1406.79 993.14 L1406.91 994.39 L1407.02 995.63 L1407.14 996.86 L1407.24 998.05 L1407.35 999.41 L1407.46 1000.94 L1407.56 1002.57 L1407.65 1004.25 L1407.74 1005.94 L1407.83 1007.61 L1407.92 1009.20 L1408.02 1010.68 L1408.13 1012.05 L1408.31 1013.27 L1408.48 1013.91 L1408.58 1014.07 L1408.62 1014.08 L1408.66 1014.07 L1408.74 1013.96 L1408.90 1013.57 L1409.11 1012.68 L1409.32 1011.51 L1409.50 1010.25 L1409.67 1008.88 L1409.86 1007.41 L1410.04 1005.85 L1410.23 1004.25 L1410.42 1002.62 L1410.61 1000.98 L1410.81 999.37 L1411.01 997.80 L1411.21 996.32 L1411.41 994.95 L1411.60 993.76 L1411.83 992.45 L1412.05 991.15 L1412.28 989.85 L1412.51 988.57 L1412.74 987.29 L1412.98 986.02 L1413.22 984.76 L1413.47 983.51 L1413.72 982.27 L1413.98 981.04 L1414.25 979.82 L1414.52 978.62 L1414.81 977.43 L1415.10 976.27 L1415.41 975.01 L1415.73 973.76 L1416.04 972.51 L1416.36 971.27 L1416.69 970.04 L1417.03 968.83 L1417.38 967.64 L1417.76 966.48 L1418.16 965.35 L1418.58 964.27 L1419.02 963.25 L1419.48 962.32 L1420.15 961.11 L1420.83 960.01 L1421.54 958.98 L1422.28 958.00 L1423.05 957.07 L1423.87 956.16 L1424.71 955.28 L1425.59 954.42 L1426.57 953.54 L1427.57 952.70 L1428.61 951.89 L1429.69 951.12 L1430.81 950.37 L1431.97 949.65 L1433.17 948.94 L1434.46 948.22 L1435.47 947.69 L1436.56 947.15 L1437.69 946.62 L1438.85 946.09 L1440.04 945.59 L1441.25 945.10 L1442.48 944.63 L1443.72 944.19 L1444.98 943.77 L1446.25 943.37 L1447.55 943.00 L1448.66 942.71 L1449.82 942.44 L1451.00 942.20 L1452.20 941.98 L1453.42 941.78 L1454.64 941.60 L1455.87 941.43 L1457.11 941.26 L1458.34 941.10 L1459.58 940.94 L1460.84 940.76 L1462.38 940.54 L1463.25 940.40 M1466.70 996.00 L1466.70 822.00 M1466.70 822.00 L1466.71 822.86 L1466.72 824.39 L1466.73 825.65 L1466.74 826.88 L1466.75 828.12 L1466.76 829.36 L1466.77 830.61 L1466.77 831.86 L1466.78 833.11 L1466.79 834.37 L1466.80 835.63 L1466.81 836.89 L1466.81 838.15 L1466.82 839.42 L1466.83 840.68 L1466.84 841.95 L1466.84 843.22 L1466.85 844.48 L1466.86 845.75 L1466.87 847.01 L1466.88 848.27 L1466.88 849.53 L1466.89 850.79 L1466.90 852.04 L1466.91 853.30 L1466.92 854.54 L1466.93 855.78 L1466.93 857.02 L1466.94 858.25 L1466.95 859.48 L1466.96 860.69 L1466.97 861.91 L1466.98 863.11 L1467.00 864.31 L1467.01 865.50 L1467.02 866.68 L1467.03 867.85 L1467.04 869.01 L1467.06 870.16 L1467.07 871.31 L1467.08 872.44 L1467.10 873.56 L1467.11 874.66 L1467.13 875.76 L1467.15 876.84 L1467.16 877.91 L1467.18 878.93 L1467.20 879.89 L1467.22 881.35 L1467.25 882.71 L1467.28 884.03 L1467.30 885.33 L1467.33 886.60 L1467.36 887.86 L1467.38 889.10 L1467.41 890.32 L1467.44 891.53 L1467.47 892.73 L1467.50 893.92 L1467.53 895.09 L1467.56 896.26 L1467.59 897.42 L1467.62 898.57 L1467.66 899.72 L1467.69 900.87 L1467.73 902.01 L1467.76 903.16 L1467.80 904.31 L1467.84 905.46 L1467.88 906.61 L1467.92 907.77 L1467.96 908.94 L1468.01 910.11 L1468.05 911.30 L1468.10 912.50 L1468.15 913.70 L1468.20 914.91 L1468.25 916.11 L1468.30 917.32 L1468.35 918.52 L1468.41 919.72 L1468.46 920.93 L1468.52 922.13 L1468.58 923.33 L1468.63 924.54 L1468.69 925.74 L1468.75 926.95 L1468.82 928.15 L1468.88 929.35 L1468.94 930.56 L1469.01 931.76 L1469.07 932.96 L1469.14 934.17 L1469.20 935.37 L1469.27 936.58 L1469.34 937.78 L1469.40 938.98 L1469.47 940.19 L1469.54 941.39 L1469.61 942.59 L1469.68 943.80 L1469.75 945.00 L1469.82 946.20 L1469.89 947.41 L1469.97 948.62 L1470.04 949.82 L1470.12 951.03 L1470.19 952.24 L1470.27 953.45 L1470.35 954.66 L1470.43 955.87 L1470.50 957.08 L1470.58 958.29 L1470.66 959.50 L1470.75 960.71 L1470.83 961.92 L1470.91 963.13 L1470.99 964.33 L1471.07 965.54 L1471.16 966.74 L1471.24 967.95 L1471.32 969.15 L1471.40 970.35 L1471.49 971.55 L1471.57 972.74 L1471.65 973.94 L1471.74 975.13 L1471.82 976.31 L1471.90 977.46 L1471.98 978.74 L1472.07 980.12 L1472.15 981.57 L1472.23 983.07 L1472.32 984.62 L1472.40 986.21 L1472.48 987.82 L1472.56 989.45 L1472.64 991.08 L1472.72 992.70 L1472.81 994.30 L1472.89 995.87 L1472.97 997.39 L1473.06 998.86 L1473.15 1000.27 L1473.24 1001.60 L1473.33 1002.84 L1473.42 1003.99 L1473.52 1005.06 L1473.65 1006.05 L1473.80 1006.88 L1473.93 1007.34 L1474.02 1007.53 L1474.07 1007.58 L1474.10 1007.58 L1474.12 1007.58 L1474.18 1007.52 L1474.29 1007.31 L1474.44 1006.77 L1474.62 1005.86 L1474.76 1004.80 L1474.89 1003.68 L1475.02 1002.45 L1475.15 1001.14 L1475.27 999.73 L1475.40 998.26 L1475.53 996.72 L1475.66 995.14 L1475.79 993.53 L1475.92 991.89 L1476.06 990.25 L1476.19 988.62 L1476.33 987.00 L1476.47 985.42 L1476.61 983.89 L1476.74 982.42 L1476.89 981.03 L1477.03 979.72 L1477.17 978.56 L1477.29 977.59 L1477.50 976.13 L1477.70 974.77 L1477.89 973.47 L1478.09 972.20 L1478.29 970.96 L1478.50 969.75 L1478.70 968.58 L1478.91 967.42 L1479.12 966.30 L1479.34 965.19 L1479.56 964.11 L1479.77 963.07 L1479.98 962.09 L1480.28 960.69 L1480.56 959.40 L1480.84 958.18 L1481.12 956.99 L1481.42 955.84 L1481.75 954.71 L1482.11 953.61 L1482.50 952.53 L1482.97 951.35 L1483.47 950.20 L1483.99 949.07 L1484.56 947.98 L1485.16 946.94 L1485.81 945.95 L1486.50 945.04 L1487.36 944.06 L1488.23 943.20 L1489.15 942.40 L1490.15 941.63 L1491.26 940.83 L1492.61 939.94 L1493.42 939.42 L1494.37 938.84 L1495.42 938.21 L1496.53 937.58 L1497.69 936.94 L1498.88 936.31 L1500.10 935.68 L1501.34 935.07 L1502.60 934.49 L1503.85 933.93 L1505.10 933.41 L1506.32 932.93 L1507.48 932.52 L1508.74 932.11 L1510.09 931.74 L1511.49 931.39 L1512.92 931.07 L1514.35 930.78 L1515.76 930.52 L1517.14 930.29 L1518.45 930.08 L1519.69 929.90 L1520.81 929.74 L1521.67 929.62 L1522.36 929.53 L1524.23 929.34 L1525.00 929.30 M1526.50 988.50 L1526.50 798.00 M1526.50 798.00 L1526.51 798.85 L1526.53 800.37 L1526.54 801.61 L1526.55 802.81 L1526.56 804.02 L1526.58 805.22 L1526.59 806.43 L1526.60 807.64 L1526.61 808.85 L1526.63 810.06 L1526.64 811.27 L1526.65 812.49 L1526.66 813.70 L1526.67 814.91 L1526.69 816.13 L1526.70 817.34 L1526.71 818.55 L1526.72 819.77 L1526.73 820.98 L1526.74 822.20 L1526.76 823.41 L1526.77 824.63 L1526.78 825.84 L1526.79 827.06 L1526.80 828.27 L1526.81 829.49 L1526.83 830.70 L1526.84 831.91 L1526.85 833.13 L1526.86 834.34 L1526.87 835.55 L1526.89 836.76 L1526.90 837.97 L1526.91 839.18 L1526.92 840.38 L1526.94 841.59 L1526.95 842.79 L1526.96 844.00 L1526.97 845.20 L1526.99 846.40 L1527.00 847.60 L1527.01 848.80 L1527.03 849.99 L1527.04 851.19 L1527.06 852.38 L1527.07 853.57 L1527.09 854.76 L1527.10 855.95 L1527.12 857.13 L1527.13 858.31 L1527.15 859.49 L1527.16 860.67 L1527.18 861.85 L1527.19 863.02 L1527.21 864.19 L1527.23 865.36 L1527.25 866.52 L1527.26 867.69 L1527.28 868.83 L1527.30 869.96 L1527.32 871.25 L1527.34 872.53 L1527.36 873.80 L1527.38 875.08 L1527.40 876.35 L1527.42 877.63 L1527.44 878.92 L1527.46 880.20 L1527.48 881.49 L1527.50 882.78 L1527.52 884.06 L1527.55 885.35 L1527.57 886.64 L1527.59 887.93 L1527.61 889.22 L1527.63 890.50 L1527.65 891.79 L1527.67 893.07 L1527.70 894.35 L1527.72 895.63 L1527.74 896.91 L1527.76 898.18 L1527.79 899.45 L1527.81 900.72 L1527.84 901.98 L1527.86 903.23 L1527.88 904.48 L1527.91 905.73 L1527.93 906.97 L1527.96 908.20 L1527.98 909.43 L1528.01 910.65 L1528.04 911.86 L1528.06 913.07 L1528.09 914.26 L1528.12 915.45 L1528.15 916.63 L1528.18 917.80 L1528.21 918.96 L1528.24 920.11 L1528.27 921.25 L1528.30 922.38 L1528.33 923.50 L1528.36 924.61 L1528.39 925.70 L1528.43 926.79 L1528.46 927.86 L1528.49 928.92 L1528.53 929.96 L1528.56 930.94 L1528.60 931.87 L1528.65 933.38 L1528.70 934.78 L1528.75 936.14 L1528.81 937.47 L1528.86 938.79 L1528.91 940.09 L1528.96 941.37 L1529.02 942.63 L1529.07 943.88 L1529.13 945.11 L1529.18 946.33 L1529.24 947.53 L1529.30 948.72 L1529.36 949.89 L1529.42 951.06 L1529.48 952.21 L1529.55 953.36 L1529.61 954.49 L1529.68 955.62 L1529.75 956.73 L1529.82 957.84 L1529.89 958.94 L1529.97 960.04 L1530.04 961.13 L1530.12 962.19 L1530.19 963.21 L1530.31 964.63 L1530.42 965.98 L1530.54 967.28 L1530.66 968.56 L1530.78 969.83 L1530.91 971.08 L1531.04 972.32 L1531.17 973.54 L1531.30 974.76 L1531.43 975.96 L1531.56 977.15 L1531.69 978.34 L1531.82 979.52 L1531.94 980.69 L1532.07 981.86 L1532.18 983.02 L1532.29 984.13 L1532.41 985.50 L1532.54 987.00 L1532.65 988.58 L1532.77 990.20 L1532.89 991.84 L1533.00 993.47 L1533.11 995.03 L1533.22 996.51 L1533.34 997.89 L1533.47 999.17 L1533.63 1000.25 L1533.76 1000.74 L1533.82 1000.86 L1533.85 1000.87 L1533.87 1000.86 L1533.93 1000.77 L1534.02 1000.40 L1534.15 999.53 L1534.25 998.35 L1534.34 997.10 L1534.42 995.73 L1534.50 994.26 L1534.57 992.71 L1534.65 991.10 L1534.73 989.45 L1534.82 987.79 L1534.90 986.14 L1534.99 984.52 L1535.09 982.97 L1535.19 981.50 L1535.30 980.16 L1535.40 979.02 L1535.54 977.69 L1535.68 976.40 L1535.83 975.14 L1535.99 973.89 L1536.15 972.67 L1536.31 971.45 L1536.47 970.26 L1536.64 969.07 L1536.81 967.90 L1536.98 966.74 L1537.16 965.58 L1537.33 964.45 L1537.49 963.36 L1537.69 961.99 L1537.88 960.67 L1538.07 959.37 L1538.25 958.09 L1538.45 956.82 L1538.65 955.57 L1538.86 954.35 L1539.09 953.14 L1539.34 951.96 L1539.60 950.83 L1539.92 949.55 L1540.26 948.30 L1540.61 947.09 L1540.98 945.90 L1541.37 944.74 L1541.79 943.62 L1542.23 942.55 L1542.69 941.55 L1543.32 940.35 L1543.96 939.25 L1544.63 938.21 L1545.34 937.21 L1546.10 936.21 L1546.92 935.19 L1547.68 934.28 L1548.50 933.36 L1549.35 932.45 L1550.24 931.55 L1551.16 930.67 L1552.12 929.82 L1553.13 928.99 L1554.06 928.28 L1555.06 927.57 L1556.10 926.88 L1557.17 926.20 L1558.25 925.55 L1559.34 924.93 L1560.43 924.33 L1561.48 923.77 L1562.67 923.16 L1563.83 922.59 L1564.98 922.06 L1566.15 921.55 L1567.33 921.06 L1568.55 920.57 L1569.86 920.09 L1570.90 919.72 L1572.01 919.36 L1573.16 919.00 L1574.32 918.66 L1575.50 918.33 L1576.68 918.00 L1577.90 917.66 L1579.37 917.24 L1580.20 917.00 M1582.40 980.50 L1582.40 768.00 M1582.40 768.00 L1582.41 768.86 L1582.43 770.39 L1582.44 771.64 L1582.45 772.86 L1582.47 774.07 L1582.48 775.29 L1582.49 776.52 L1582.50 777.74 L1582.52 778.96 L1582.53 780.19 L1582.54 781.42 L1582.56 782.64 L1582.57 783.87 L1582.58 785.10 L1582.60 786.33 L1582.61 787.57 L1582.62 788.80 L1582.63 790.03 L1582.65 791.26 L1582.66 792.50 L1582.67 793.73 L1582.69 794.97 L1582.70 796.20 L1582.71 797.44 L1582.72 798.67 L1582.74 799.91 L1582.75 801.14 L1582.76 802.38 L1582.78 803.61 L1582.79 804.85 L1582.80 806.08 L1582.81 807.32 L1582.83 808.55 L1582.84 809.78 L1582.85 811.01 L1582.87 812.24 L1582.88 813.47 L1582.89 814.70 L1582.90 815.93 L1582.92 817.16 L1582.93 818.39 L1582.94 819.61 L1582.96 820.84 L1582.97 822.06 L1582.98 823.28 L1583.00 824.50 L1583.01 825.72 L1583.02 826.93 L1583.03 828.15 L1583.05 829.36 L1583.06 830.57 L1583.07 831.78 L1583.09 832.99 L1583.10 834.19 L1583.11 835.40 L1583.13 836.60 L1583.14 837.79 L1583.15 838.99 L1583.17 840.18 L1583.18 841.37 L1583.19 842.56 L1583.21 843.74 L1583.22 844.93 L1583.23 846.11 L1583.25 847.28 L1583.26 848.46 L1583.28 849.63 L1583.29 850.79 L1583.30 851.96 L1583.32 853.12 L1583.33 854.27 L1583.34 855.43 L1583.36 856.58 L1583.37 857.72 L1583.39 858.85 L1583.40 859.95 L1583.42 861.26 L1583.43 862.55 L1583.44 863.83 L1583.46 865.12 L1583.47 866.40 L1583.48 867.69 L1583.50 868.98 L1583.51 870.27 L1583.52 871.56 L1583.53 872.85 L1583.54 874.15 L1583.55 875.44 L1583.56 876.73 L1583.57 878.02 L1583.58 879.31 L1583.59 880.60 L1583.60 881.89 L1583.61 883.18 L1583.62 884.47 L1583.63 885.75 L1583.64 887.03 L1583.65 888.31 L1583.66 889.59 L1583.67 890.86 L1583.68 892.13 L1583.69 893.39 L1583.70 894.65 L1583.71 895.91 L1583.72 897.16 L1583.73 898.40 L1583.74 899.65 L1583.75 900.88 L1583.77 902.11 L1583.78 903.33 L1583.79 904.55 L1583.81 905.76 L1583.82 906.96 L1583.84 908.16 L1583.85 909.35 L1583.87 910.52 L1583.89 911.70 L1583.90 912.86 L1583.92 914.01 L1583.94 915.16 L1583.96 916.29 L1583.98 917.42 L1584.01 918.54 L1584.03 919.64 L1584.06 920.74 L1584.08 921.82 L1584.11 922.90 L1584.13 923.96 L1584.16 925.01 L1584.19 926.05 L1584.23 927.07 L1584.26 928.09 L1584.29 929.09 L1584.33 930.07 L1584.36 930.98 L1584.39 931.83 L1584.46 933.42 L1584.53 934.87 L1584.60 936.27 L1584.67 937.64 L1584.75 939.00 L1584.82 940.33 L1584.91 941.65 L1584.99 942.94 L1585.08 944.22 L1585.16 945.47 L1585.25 946.71 L1585.34 947.93 L1585.43 949.13 L1585.52 950.32 L1585.61 951.49 L1585.70 952.64 L1585.79 953.77 L1585.88 954.89 L1585.96 955.99 L1586.05 957.08 L1586.13 958.15 L1586.21 959.21 L1586.29 960.26 L1586.36 961.28 L1586.43 962.25 L1586.49 963.17 L1586.59 964.68 L1586.67 966.04 L1586.74 967.33 L1586.81 968.57 L1586.88 969.79 L1586.95 970.97 L1587.02 972.13 L1587.08 973.28 L1587.15 974.42 L1587.23 975.55 L1587.31 976.68 L1587.40 977.81 L1587.49 978.91 L1587.62 980.34 L1587.75 981.94 L1587.90 983.62 L1588.05 985.34 L1588.21 987.03 L1588.37 988.64 L1588.54 990.14 L1588.75 991.53 L1588.96 992.36 L1589.07 992.56 L1589.11 992.57 L1589.13 992.56 L1589.20 992.45 L1589.31 992.05 L1589.45 991.15 L1589.57 989.97 L1589.66 988.70 L1589.75 987.33 L1589.84 985.86 L1589.93 984.31 L1590.02 982.72 L1590.11 981.11 L1590.20 979.50 L1590.30 977.93 L1590.40 976.42 L1590.50 974.99 L1590.61 973.72 L1590.71 972.54 L1590.82 971.32 L1590.93 970.08 L1591.05 968.82 L1591.16 967.57 L1591.28 966.30 L1591.40 965.04 L1591.53 963.77 L1591.65 962.51 L1591.78 961.25 L1591.91 960.01 L1592.04 958.77 L1592.17 957.56 L1592.30 956.35 L1592.43 955.17 L1592.56 954.04 L1592.69 952.96 L1592.86 951.59 L1593.01 950.27 L1593.17 948.99 L1593.32 947.73 L1593.47 946.49 L1593.63 945.26 L1593.80 944.05 L1593.97 942.86 L1594.16 941.69 L1594.36 940.54 L1594.57 939.42 L1594.79 938.35 L1595.08 937.05 L1595.38 935.81 L1595.69 934.60 L1596.01 933.41 L1596.35 932.25 L1596.70 931.12 L1597.08 930.02 L1597.48 928.95 L1597.89 927.94 L1598.42 926.76 L1598.96 925.65 L1599.52 924.58 L1600.11 923.56 L1600.73 922.55 L1601.40 921.58 L1602.10 920.62 L1602.88 919.66 L1603.70 918.74 L1604.55 917.84 L1605.44 916.97 L1606.37 916.11 L1607.32 915.26 L1608.31 914.40 L1609.27 913.60 L1610.28 912.80 L1611.33 912.01 L1612.40 911.22 L1613.48 910.44 L1614.57 909.66 L1615.64 908.88 L1616.70 908.09 L1617.73 907.31 L1618.78 906.50 L1619.82 905.68 L1620.86 904.86 L1621.91 904.06 L1622.95 903.30 L1623.97 902.58 L1624.96 901.94 L1626.23 901.19 L1627.45 900.54 L1628.66 899.95 L1629.87 899.37 L1631.08 898.79 L1632.30 898.20 M1637.80 930.00 L1637.86 931.22 L1637.92 932.45 L1637.97 933.68 L1638.03 934.92 L1638.08 936.17 L1638.14 937.41 L1638.19 938.66 L1638.24 939.91 L1638.29 941.15 L1638.35 942.40 L1638.40 943.64 L1638.45 944.88 L1638.51 946.12 L1638.57 947.35 L1638.63 948.57 L1638.69 949.79 L1638.75 951.00 L1638.82 952.20 L1638.89 953.38 L1638.96 954.56 L1639.04 955.72 L1639.12 956.87 L1639.20 958.00 L1639.30 959.30 L1639.41 960.59 L1639.53 961.85 L1639.65 963.10 L1639.77 964.33 L1639.89 965.56 L1640.02 966.77 L1640.15 967.97 L1640.29 969.17 L1640.42 970.36 L1640.56 971.55 L1640.69 972.74 L1640.83 973.93 L1640.96 975.13 L1641.09 976.33 L1641.22 977.53 L1641.35 978.75 M1641.35 978.75 L1641.45 977.50 L1641.56 976.24 L1641.67 974.98 L1641.77 973.71 L1641.88 972.45 L1641.99 971.18 L1642.10 969.91 L1642.21 968.64 L1642.32 967.37 L1642.43 966.11 L1642.54 964.85 L1642.64 963.59 L1642.75 962.33 L1642.85 961.08 L1642.95 959.84 L1643.05 958.61 L1643.14 957.38 L1643.23 956.16 L1643.32 954.95 L1643.40 953.75 L1643.48 952.47 L1643.56 951.19 L1643.63 949.91 L1643.69 948.64 L1643.75 947.37 L1643.81 946.10 L1643.87 944.85 L1643.92 943.60 L1643.98 942.36 L1644.03 941.13 L1644.09 939.91 L1644.14 938.70 L1644.21 937.51 L1644.27 936.33 L1644.34 935.17 L1644.42 934.03 L1644.50 932.90 L1644.60 931.59 L1644.70 930.29 L1644.80 929.02 L1644.91 927.77 L1645.01 926.53 L1645.12 925.32 L1645.24 924.11 L1645.37 922.93 L1645.51 921.75 L1645.66 920.59 L1645.82 919.44 L1646.00 918.30 L1646.23 916.95 L1646.47 915.62 L1646.72 914.31 L1646.98 913.02 L1647.26 911.74 L1647.57 910.49 L1647.89 909.27 L1648.23 908.07 L1648.60 906.90 L1649.05 905.61 L1649.52 904.35 L1650.01 903.13 L1650.53 901.94 L1651.09 900.78 L1651.68 899.63 L1652.30 898.50 L1652.95 897.41 L1653.63 896.35 L1654.35 895.32 L1655.09 894.30 L1655.87 893.29 L1656.67 892.27 L1657.50 891.25 L1658.33 890.26 L1659.19 889.26 L1660.08 888.27 L1660.99 887.28 L1661.93 886.29 L1662.87 885.31 L1663.83 884.35 L1664.80 883.40 L1665.68 882.55 L1666.59 881.72 L1667.50 880.89 L1668.43 880.07 L1669.37 879.25 L1670.31 878.45 L1671.24 877.66 L1672.18 876.87 L1673.10 876.10 L1674.08 875.29 L1675.06 874.50 L1676.03 873.72 L1677.00 872.96 L1677.98 872.19 L1678.95 871.43 L1679.93 870.67 L1680.90 869.90 M1687.60 925.00 L1687.65 926.22 L1687.71 927.44 L1687.76 928.67 L1687.81 929.91 L1687.87 931.16 L1687.92 932.40 L1687.98 933.65 L1688.03 934.89 L1688.08 936.13 L1688.14 937.37 L1688.19 938.60 L1688.24 939.82 L1688.30 941.03 L1688.35 942.23 L1688.40 943.42 L1688.45 944.59 L1688.50 945.75 L1688.55 946.88 L1688.60 948.00 L1688.66 949.34 L1688.71 950.65 L1688.77 951.93 L1688.82 953.19 L1688.88 954.44 L1688.93 955.67 L1688.98 956.89 L1689.04 958.10 L1689.09 959.31 L1689.14 960.52 L1689.19 961.74 L1689.25 962.96 L1689.30 964.20 M1689.30 964.20 L1689.34 963.38 L1689.43 961.84 L1689.50 960.57 L1689.56 959.35 L1689.63 958.14 L1689.70 956.93 L1689.76 955.71 L1689.83 954.50 L1689.90 953.28 L1689.96 952.07 L1690.03 950.86 L1690.09 949.65 L1690.16 948.44 L1690.22 947.23 L1690.29 946.02 L1690.35 944.81 L1690.41 943.60 L1690.48 942.40 L1690.54 941.20 L1690.60 940.01 L1690.66 938.77 L1690.72 937.53 L1690.77 936.30 L1690.82 935.08 L1690.87 933.86 L1690.92 932.64 L1690.96 931.42 L1691.01 930.20 L1691.06 928.98 L1691.11 927.76 L1691.16 926.54 L1691.21 925.32 L1691.26 924.10 L1691.32 922.88 L1691.39 921.65 L1691.46 920.42 L1691.53 919.19 L1691.61 917.95 L1691.70 916.70 L1691.79 915.47 L1691.88 914.23 L1691.98 912.97 L1692.08 911.71 L1692.18 910.44 L1692.28 909.17 L1692.39 907.90 L1692.50 906.62 L1692.61 905.34 L1692.73 904.07 L1692.85 902.79 L1692.98 901.52 L1693.11 900.26 L1693.25 899.00 L1693.39 897.76 L1693.54 896.52 L1693.70 895.29 L1693.86 894.08 L1694.03 892.89 L1694.20 891.72 L1694.39 890.46 L1694.58 889.21 L1694.78 887.98 L1694.97 886.75 L1695.17 885.53 L1695.38 884.32 L1695.59 883.12 L1695.81 881.92 L1696.04 880.74 L1696.28 879.56 L1696.53 878.40 L1696.79 877.25 L1697.06 876.11 L1697.35 874.99 L1697.65 873.88 L1697.96 872.81 L1698.29 871.77 L1698.72 870.47 L1699.17 869.20 L1699.63 867.97 L1700.12 866.76 L1700.62 865.56 L1701.14 864.38 L1701.67 863.22 L1702.21 862.08 L1702.76 860.95 L1703.32 859.85 L1703.88 858.77 L1704.44 857.73 L1704.99 856.73 L1705.63 855.59 L1706.28 854.49 L1706.93 853.42 L1707.59 852.38 L1708.26 851.37 L1708.93 850.38 L1709.62 849.42 L1710.31 848.49 L1710.98 847.62 L1711.62 846.80 L1712.58 845.58 L1713.54 844.34 L1714.51 843.14 L1715.50 842.02 L1716.50 841.10 L1717.42 840.47 L1718.26 840.14 L1719.52 840.03 L1720.88 840.31 L1722.19 840.94 L1723.33 841.84 L1723.94 842.53 L1724.50 843.40 L1725.02 844.47 L1725.49 845.69 L1725.91 847.03 L1726.32 848.52 L1726.74 850.20 L1726.92 851.00 L1727.10 851.90 L1727.29 852.96 L1727.47 854.07 L1727.63 855.24 L1727.78 856.45 L1727.92 857.70 L1728.05 858.98 L1728.17 860.29 L1728.28 861.62 L1728.39 862.97 L1728.49 864.33 L1728.59 865.69 L1728.68 867.06 L1728.77 868.43 L1728.85 869.78 L1728.94 871.13 L1729.03 872.45 L1729.11 873.75 L1729.20 875.01 L1729.29 876.25 L1729.37 877.51 L1729.45 878.77 L1729.53 880.04 L1729.60 881.31 L1729.67 882.58 L1729.73 883.86 L1729.80 885.13 L1729.85 886.40 L1729.91 887.67 L1729.96 888.94 L1730.01 890.20 L1730.06 891.46 L1730.10 892.71 L1730.14 893.95 L1730.18 895.18 L1730.21 896.41 L1730.24 897.62 L1730.27 898.80 L1730.30 899.96 L1730.32 901.30 L1730.34 902.61 L1730.36 903.89 L1730.36 905.16 L1730.37 906.42 L1730.37 907.67 L1730.36 908.91 L1730.36 910.14 L1730.35 911.37 L1730.34 912.60 L1730.33 913.82 L1730.32 915.05 L1730.31 916.28 L1730.31 917.51 L1730.30 918.75 L1730.30 920.00 M1729.3 990 L1729.3 789" fill="none" stroke="#000" stroke-width="5.2" stroke-linecap="round" stroke-linejoin="round"/>
<g fill="#000"><circle cx="1636.30" cy="749.00" r="1.7"/><circle cx="1636.33" cy="756.00" r="1.7"/><circle cx="1636.36" cy="762.30" r="1.7"/><circle cx="1636.38" cy="767.97" r="1.7"/><circle cx="1636.41" cy="773.07" r="1.7"/><circle cx="1636.43" cy="777.67" r="1.7"/><circle cx="1636.45" cy="781.80" r="1.7"/><circle cx="1636.46" cy="785.52" r="1.7"/><circle cx="1636.48" cy="788.92" r="1.7"/><circle cx="1636.49" cy="792.32" r="1.7"/><circle cx="1636.51" cy="795.72" r="1.7"/><circle cx="1636.52" cy="799.12" r="1.7"/><circle cx="1636.54" cy="802.52" r="1.7"/><circle cx="1636.55" cy="805.92" r="1.7"/><circle cx="1636.57" cy="809.32" r="1.7"/><circle cx="1636.58" cy="812.72" r="1.7"/><circle cx="1636.60" cy="816.12" r="1.7"/><circle cx="1636.61" cy="819.52" r="1.7"/><circle cx="1636.63" cy="822.92" r="1.7"/><circle cx="1636.64" cy="826.32" r="1.7"/><circle cx="1636.66" cy="829.72" r="1.7"/><circle cx="1636.67" cy="833.12" r="1.7"/><circle cx="1636.69" cy="836.52" r="1.7"/><circle cx="1636.70" cy="839.92" r="1.7"/><circle cx="1636.72" cy="843.32" r="1.7"/><circle cx="1636.73" cy="846.72" r="1.7"/><circle cx="1636.75" cy="850.12" r="1.7"/><circle cx="1636.76" cy="853.52" r="1.7"/><circle cx="1636.78" cy="856.92" r="1.7"/><circle cx="1636.79" cy="860.32" r="1.7"/><circle cx="1636.81" cy="863.72" r="1.7"/><circle cx="1636.82" cy="867.12" r="1.7"/><circle cx="1636.84" cy="870.52" r="1.7"/><circle cx="1636.85" cy="873.92" r="1.7"/><circle cx="1636.87" cy="877.32" r="1.7"/><circle cx="1636.88" cy="880.72" r="1.7"/><circle cx="1636.90" cy="884.12" r="1.7"/><circle cx="1636.91" cy="887.52" r="1.7"/><circle cx="1636.93" cy="890.92" r="1.7"/><circle cx="1636.94" cy="894.32" r="1.7"/><circle cx="1636.96" cy="897.72" r="1.7"/><circle cx="1636.97" cy="901.12" r="1.7"/><circle cx="1636.99" cy="904.52" r="1.7"/><circle cx="1637.00" cy="907.92" r="1.7"/><circle cx="1637.02" cy="911.32" r="1.7"/><circle cx="1637.03" cy="914.72" r="1.7"/><circle cx="1637.05" cy="918.12" r="1.7"/><circle cx="1637.06" cy="921.52" r="1.7"/><circle cx="1637.08" cy="924.92" r="1.7"/><circle cx="1637.09" cy="928.32" r="1.7"/><circle cx="1637.11" cy="931.72" r="1.7"/><circle cx="1637.12" cy="935.12" r="1.7"/><circle cx="1637.14" cy="938.52" r="1.7"/><circle cx="1637.15" cy="941.92" r="1.7"/><circle cx="1637.17" cy="945.32" r="1.7"/><circle cx="1637.18" cy="948.72" r="1.7"/><circle cx="1637.20" cy="952.12" r="1.7"/><circle cx="1637.21" cy="955.52" r="1.7"/><circle cx="1637.23" cy="958.92" r="1.7"/><circle cx="1637.24" cy="962.32" r="1.7"/><circle cx="1637.26" cy="965.72" r="1.7"/><circle cx="1637.27" cy="969.12" r="1.7"/><circle cx="1637.29" cy="972.52" r="1.7"/><circle cx="1685.90" cy="824.00" r="1.7"/><circle cx="1685.94" cy="827.60" r="1.7"/><circle cx="1685.98" cy="831.20" r="1.7"/><circle cx="1686.03" cy="834.80" r="1.7"/><circle cx="1686.07" cy="838.40" r="1.7"/><circle cx="1686.11" cy="842.00" r="1.7"/><circle cx="1686.15" cy="845.60" r="1.7"/><circle cx="1686.19" cy="849.20" r="1.7"/><circle cx="1686.23" cy="852.80" r="1.7"/><circle cx="1686.28" cy="856.40" r="1.7"/><circle cx="1686.32" cy="860.00" r="1.7"/><circle cx="1686.36" cy="863.60" r="1.7"/><circle cx="1686.40" cy="867.20" r="1.7"/><circle cx="1686.44" cy="870.80" r="1.7"/><circle cx="1686.48" cy="874.40" r="1.7"/><circle cx="1686.53" cy="878.00" r="1.7"/><circle cx="1686.57" cy="881.60" r="1.7"/><circle cx="1686.61" cy="885.20" r="1.7"/><circle cx="1686.65" cy="888.80" r="1.7"/><circle cx="1686.69" cy="892.40" r="1.7"/><circle cx="1686.73" cy="896.00" r="1.7"/><circle cx="1686.78" cy="899.60" r="1.7"/><circle cx="1686.82" cy="903.20" r="1.7"/><circle cx="1686.86" cy="906.80" r="1.7"/><circle cx="1686.90" cy="910.40" r="1.7"/><circle cx="1686.94" cy="914.00" r="1.7"/><circle cx="1686.99" cy="917.60" r="1.7"/><circle cx="1687.03" cy="921.20" r="1.7"/><circle cx="1687.07" cy="924.80" r="1.7"/><circle cx="1687.11" cy="928.40" r="1.7"/><circle cx="1687.15" cy="932.00" r="1.7"/><circle cx="1687.19" cy="935.60" r="1.7"/><circle cx="1687.24" cy="939.20" r="1.7"/><circle cx="1687.28" cy="942.80" r="1.7"/><circle cx="1687.32" cy="946.40" r="1.7"/><circle cx="1687.36" cy="950.00" r="1.7"/><circle cx="1687.40" cy="953.60" r="1.7"/><circle cx="1687.44" cy="957.20" r="1.7"/><circle cx="1687.49" cy="960.80" r="1.7"/></g>
<line x1="1729.3" y1="144" x2="1729.3" y2="990" stroke="#000" stroke-width="2.2"/>
<g fill="#000"><circle cx="1730.8" cy="146.7" r="1.7"/><circle cx="1730.8" cy="156.7" r="1.7"/><circle cx="1730.8" cy="165.0" r="1.7"/><circle cx="1730.8" cy="181.7" r="1.7"/><circle cx="1730.8" cy="190.0" r="1.7"/><circle cx="1730.8" cy="193.3" r="1.7"/><circle cx="1730.8" cy="201.7" r="1.7"/><circle cx="1730.8" cy="220.0" r="1.7"/><circle cx="1730.8" cy="243.0" r="1.7"/><circle cx="1730.8" cy="248.0" r="1.7"/><circle cx="1730.8" cy="253.0" r="1.7"/><circle cx="1730.8" cy="258.0" r="1.7"/><circle cx="1730.8" cy="262.0" r="1.7"/><circle cx="1730.8" cy="268.0" r="1.7"/><circle cx="1730.8" cy="285.0" r="1.7"/><circle cx="1730.8" cy="310.0" r="1.7"/><circle cx="1730.8" cy="316.7" r="1.7"/><circle cx="1730.8" cy="328.0" r="1.7"/><circle cx="1730.8" cy="343.0" r="1.7"/><circle cx="1730.8" cy="349.0" r="1.7"/><circle cx="1730.8" cy="354.0" r="1.7"/><circle cx="1730.8" cy="360.0" r="1.7"/><circle cx="1730.8" cy="368.0" r="1.7"/><circle cx="1730.8" cy="396.7" r="1.7"/><circle cx="1730.8" cy="427.0" r="1.7"/><circle cx="1730.8" cy="432.0" r="1.7"/><circle cx="1730.8" cy="483.0" r="1.7"/><circle cx="1730.8" cy="491.7" r="1.7"/><circle cx="1730.8" cy="510.0" r="1.7"/></g>
<!-- vlines -->
<line x1="1634" y1="144" x2="1634" y2="1068" stroke="#0000ff" stroke-width="4.1"/>
<line x1="1683.1" y1="144" x2="1683.1" y2="1068" stroke="#0000ff" stroke-width="4.1"/>
<!-- green & yellow -->
<line x1="1634.2" y1="720" x2="1634.2" y2="749" stroke="#000" stroke-opacity="0.75" stroke-width="3.6" stroke-linecap="round"/>
<g fill="#90ee90"><circle cx="1684.3" cy="668" r="4.5"/><circle cx="1684.3" cy="673" r="4.5"/><circle cx="1684.3" cy="678" r="4.5"/><circle cx="1684.3" cy="683" r="4.5"/><circle cx="1684.3" cy="688" r="4.5"/><circle cx="1684.3" cy="693" r="4.5"/><circle cx="1684.3" cy="698" r="4.5"/><circle cx="1684.3" cy="703" r="4.5"/><circle cx="1684.3" cy="708" r="4.5"/><circle cx="1684.3" cy="713" r="4.5"/><circle cx="1684.3" cy="718" r="4.5"/><circle cx="1684.3" cy="723" r="4.5"/><circle cx="1684.3" cy="728" r="4.5"/><circle cx="1684.3" cy="733" r="4.5"/><circle cx="1684.3" cy="738" r="4.5"/><circle cx="1684.3" cy="743" r="4.5"/><circle cx="1684.3" cy="748" r="4.5"/><circle cx="1684.3" cy="753" r="4.5"/><circle cx="1684.3" cy="758" r="4.5"/><circle cx="1684.3" cy="763" r="4.5"/><circle cx="1684.3" cy="768" r="4.5"/><circle cx="1684.3" cy="773" r="4.5"/><circle cx="1684.3" cy="778" r="4.5"/><circle cx="1684.3" cy="783" r="4.5"/><circle cx="1684.3" cy="788" r="4.5"/><circle cx="1684.3" cy="793" r="4.5"/><circle cx="1684.3" cy="798" r="4.5"/><circle cx="1684.3" cy="803" r="4.5"/><circle cx="1684.3" cy="808" r="4.5"/><circle cx="1684.3" cy="813" r="4.5"/><circle cx="1684.3" cy="818" r="4.5"/></g>
<ellipse cx="1635" cy="734.6" rx="7.6" ry="15.8" fill="#ffff00" fill-opacity="0.72"/>
<g fill="#ffff00" fill-opacity="0.42"><circle cx="1683.6" cy="664" r="7.4"/><circle cx="1683.6" cy="669" r="7.4"/><circle cx="1683.6" cy="674" r="7.4"/><circle cx="1683.6" cy="679" r="7.4"/><circle cx="1683.6" cy="684" r="7.4"/><circle cx="1683.6" cy="689" r="7.4"/><circle cx="1683.6" cy="694" r="7.4"/><circle cx="1683.6" cy="699" r="7.4"/><circle cx="1683.6" cy="704" r="7.4"/><circle cx="1683.6" cy="709" r="7.4"/><circle cx="1683.6" cy="714" r="7.4"/><circle cx="1683.6" cy="719" r="7.4"/><circle cx="1683.6" cy="724" r="7.4"/><circle cx="1683.6" cy="729" r="7.4"/><circle cx="1683.6" cy="734" r="7.4"/><circle cx="1683.6" cy="739" r="7.4"/><circle cx="1683.6" cy="744" r="7.4"/></g>
<!-- spines -->
<rect x="250.4" y="144.4" width="1550.1" height="924.1" fill="none" stroke="#000" stroke-width="1.2"/>
<path d="M233 888.88 L250 888.88 M233 702.66 L250 702.66 M233 516.44 L250 516.44 M233 330.22 L250 330.22 M233 144.00 L250 144.00 M239.5 1028.55 L250 1028.55 M239.5 981.99 L250 981.99 M239.5 935.44 L250 935.44 M239.5 842.33 L250 842.33 M239.5 795.77 L250 795.77 M239.5 749.22 L250 749.22 M239.5 656.11 L250 656.11 M239.5 609.55 L250 609.55 M239.5 563.00 L250 563.00 M239.5 469.88 L250 469.88 M239.5 423.33 L250 423.33 M239.5 376.77 L250 376.77 M239.5 283.66 L250 283.66 M239.5 237.11 L250 237.11 M239.5 190.56 L250 190.56 M386.80 1068 L386.80 1084.5 M578.09 1068 L578.09 1084.5 M769.38 1068 L769.38 1084.5 M960.66 1068 L960.66 1084.5 M1151.95 1068 L1151.95 1084.5 M1343.24 1068 L1343.24 1084.5 M1534.52 1068 L1534.52 1084.5 M1725.81 1068 L1725.81 1084.5 M272.03 1068 L272.03 1078.5 M310.29 1068 L310.29 1078.5 M348.54 1068 L348.54 1078.5 M425.06 1068 L425.06 1078.5 M463.31 1068 L463.31 1078.5 M501.57 1068 L501.57 1078.5 M539.83 1068 L539.83 1078.5 M616.34 1068 L616.34 1078.5 M654.60 1068 L654.60 1078.5 M692.86 1068 L692.86 1078.5 M731.12 1068 L731.12 1078.5 M807.63 1068 L807.63 1078.5 M845.89 1068 L845.89 1078.5 M884.15 1068 L884.15 1078.5 M922.41 1068 L922.41 1078.5 M998.92 1068 L998.92 1078.5 M1037.18 1068 L1037.18 1078.5 M1075.44 1068 L1075.44 1078.5 M1113.69 1068 L1113.69 1078.5 M1190.21 1068 L1190.21 1078.5 M1228.46 1068 L1228.46 1078.5 M1266.72 1068 L1266.72 1078.5 M1304.98 1068 L1304.98 1078.5 M1381.49 1068 L1381.49 1078.5 M1419.75 1068 L1419.75 1078.5 M1458.01 1068 L1458.01 1078.5 M1496.27 1068 L1496.27 1078.5 M1572.78 1068 L1572.78 1078.5 M1611.04 1068 L1611.04 1078.5 M1649.30 1068 L1649.30 1078.5 M1687.56 1068 L1687.56 1078.5 M1764.07 1068 L1764.07 1078.5" stroke="#000" stroke-width="5.6" fill="none"/>
<text x="160.43" y="902.68" font-size="36.46" textLength="67.11" lengthAdjust="spacingAndGlyphs" >200</text>
<text x="161.55" y="716.46" font-size="36.46" textLength="65.96" lengthAdjust="spacingAndGlyphs" >400</text>
<text x="160.43" y="530.24" font-size="36.46" textLength="67.11" lengthAdjust="spacingAndGlyphs" >600</text>
<text x="160.72" y="344.02" font-size="36.46" textLength="66.82" lengthAdjust="spacingAndGlyphs" >800</text>
<text x="137.14" y="157.80" font-size="36.46" textLength="90.47" lengthAdjust="spacingAndGlyphs" >1000</text>
<text x="312.46" y="1117.00" font-size="36.46" textLength="148.20" lengthAdjust="spacingAndGlyphs" >1447.50</text>
<text x="503.75" y="1117.00" font-size="36.46" textLength="148.34" lengthAdjust="spacingAndGlyphs" >1447.75</text>
<text x="695.04" y="1117.00" font-size="36.46" textLength="148.20" lengthAdjust="spacingAndGlyphs" >1448.00</text>
<text x="886.32" y="1117.00" font-size="36.46" textLength="148.34" lengthAdjust="spacingAndGlyphs" >1448.25</text>
<text x="1077.61" y="1117.00" font-size="36.46" textLength="148.20" lengthAdjust="spacingAndGlyphs" >1448.50</text>
<text x="1268.90" y="1117.00" font-size="36.46" textLength="148.34" lengthAdjust="spacingAndGlyphs" >1448.75</text>
<text x="1460.19" y="1117.00" font-size="36.46" textLength="148.20" lengthAdjust="spacingAndGlyphs" >1449.00</text>
<text x="1651.47" y="1117.00" font-size="36.46" textLength="148.34" lengthAdjust="spacingAndGlyphs" >1449.25</text>
<text x="889.37" y="1171.50" font-size="58.34" textLength="270.93" lengthAdjust="spacingAndGlyphs" >Age (Myr)</text>
<g transform="translate(118.6 0) rotate(-90)"><text x="-839.69" y="0.00" font-size="58.34" textLength="464.44" lengthAdjust="spacingAndGlyphs" >O1 period (days)</text></g>
<g transform="translate(617.40 962.20) rotate(-80)"><text x="0.20" y="0.00" font-size="17.50" textLength="34.23" lengthAdjust="spacingAndGlyphs" >n=1</text></g>
<g transform="translate(750.30 948.20) rotate(-80)"><text x="0.21" y="0.00" font-size="17.50" textLength="34.10" lengthAdjust="spacingAndGlyphs" >n=2</text></g>
<g transform="translate(871.70 933.20) rotate(-80)"><text x="0.20" y="0.00" font-size="17.50" textLength="34.34" lengthAdjust="spacingAndGlyphs" >n=3</text></g>
<g transform="translate(983.30 920.20) rotate(-80)"><text x="0.20" y="0.00" font-size="17.50" textLength="34.44" lengthAdjust="spacingAndGlyphs" >n=4</text></g>
<g transform="translate(1085.20 906.20) rotate(-80)"><text x="0.20" y="0.00" font-size="17.50" textLength="34.21" lengthAdjust="spacingAndGlyphs" >n=5</text></g>
<g transform="translate(1178.60 893.70) rotate(-80)"><text x="0.19" y="0.00" font-size="17.50" textLength="34.61" lengthAdjust="spacingAndGlyphs" >n=6</text></g>
<g transform="translate(1263.40 879.70) rotate(-80)"><text x="0.20" y="0.00" font-size="17.50" textLength="34.37" lengthAdjust="spacingAndGlyphs" >n=7</text></g>
<g transform="translate(1341.60 863.70) rotate(-80)"><text x="0.19" y="0.00" font-size="17.50" textLength="34.61" lengthAdjust="spacingAndGlyphs" >n=8</text></g>
<g transform="translate(1412.40 845.70) rotate(-80)"><text x="0.19" y="0.00" font-size="17.50" textLength="34.63" lengthAdjust="spacingAndGlyphs" >n=9</text></g>
<g transform="translate(1478.60 826.20) rotate(-80)"><text x="0.21" y="0.00" font-size="17.50" textLength="45.20" lengthAdjust="spacingAndGlyphs" >n=10</text></g>
<g transform="translate(1538.40 802.20) rotate(-80)"><text x="0.18" y="0.00" font-size="17.50" textLength="44.85" lengthAdjust="spacingAndGlyphs" >n=11</text></g>
<g transform="translate(1594.30 772.20) rotate(-80)"><text x="0.22" y="0.00" font-size="17.50" textLength="44.69" lengthAdjust="spacingAndGlyphs" >n=12</text></g>
<g transform="translate(1647.60 731.00) rotate(-80)"><text x="0.22" y="0.00" font-size="17.50" textLength="44.94" lengthAdjust="spacingAndGlyphs" >n=13</text></g>
<g transform="translate(1696.30 668.40) rotate(-80)"><text x="0.21" y="0.00" font-size="17.50" textLength="45.03" lengthAdjust="spacingAndGlyphs" >n=14</text></g>
<!-- legend -->
<rect x="263.7" y="157.5" width="534.4" height="290.6" rx="5" ry="5" fill="#fff" fill-opacity="0.8" stroke="#cccccc" stroke-width="1.4"/>
<line x1="272" y1="177" x2="324" y2="177" stroke="#000" stroke-width="2.1"/>
<circle cx="298.5" cy="177" r="2.3" fill="#000"/>
<line x1="271" y1="214" x2="325" y2="214" stroke="#0000ff" stroke-width="4.2"/>
<line x1="271" y1="251" x2="325" y2="251" stroke="#008000" stroke-width="4.2"/>
<line x1="272" y1="287" x2="324" y2="287" stroke="#ffa500" stroke-width="2"/>
<circle cx="298.5" cy="324.4" r="4.4" fill="#90ee90"/>
<line x1="272" y1="360" x2="324" y2="360" stroke="#ff0000" stroke-width="3"/>
<polygon points="298.50,338.60 303.73,353.40 319.42,353.80 306.96,363.35 311.43,378.40 298.50,369.50 285.57,378.40 290.04,363.35 277.58,353.80 293.27,353.40" fill="#ff0000"/>
<circle cx="298.5" cy="413.4" r="7" fill="#ffff00" fill-opacity="0.22" stroke="#ffff00" stroke-opacity="0.22" stroke-width="1.2"/>
<text x="342.79" y="185.90" font-size="26.25" textLength="292.27" lengthAdjust="spacingAndGlyphs" >m1.60_z0.0020_y0.253</text>
<text x="342.87" y="223.00" font-size="26.25" textLength="408.36" lengthAdjust="spacingAndGlyphs" >peak detector horizontal bounds</text>
<text x="342.74" y="260.00" font-size="26.25" textLength="446.47" lengthAdjust="spacingAndGlyphs" >min. P consistent with observations</text>
<text x="342.73" y="295.90" font-size="26.25" textLength="409.24" lengthAdjust="spacingAndGlyphs" >max. P must fall within this span</text>
<text x="342.86" y="332.60" font-size="26.25" textLength="406.06" lengthAdjust="spacingAndGlyphs" >pulse region fit with cubic spline</text>
<text x="342.87" y="368.90" font-size="26.25" textLength="206.08" lengthAdjust="spacingAndGlyphs" >pulses identified</text>
<text x="342.87" y="404.50" font-size="26.25" textLength="280.02" lengthAdjust="spacingAndGlyphs" >intersection w/ P,L,T,R</text>
<text x="342.88" y="432.90" font-size="26.25" textLength="189.85" lengthAdjust="spacingAndGlyphs" >loosely defined</text>
</svg>
</body></html>
